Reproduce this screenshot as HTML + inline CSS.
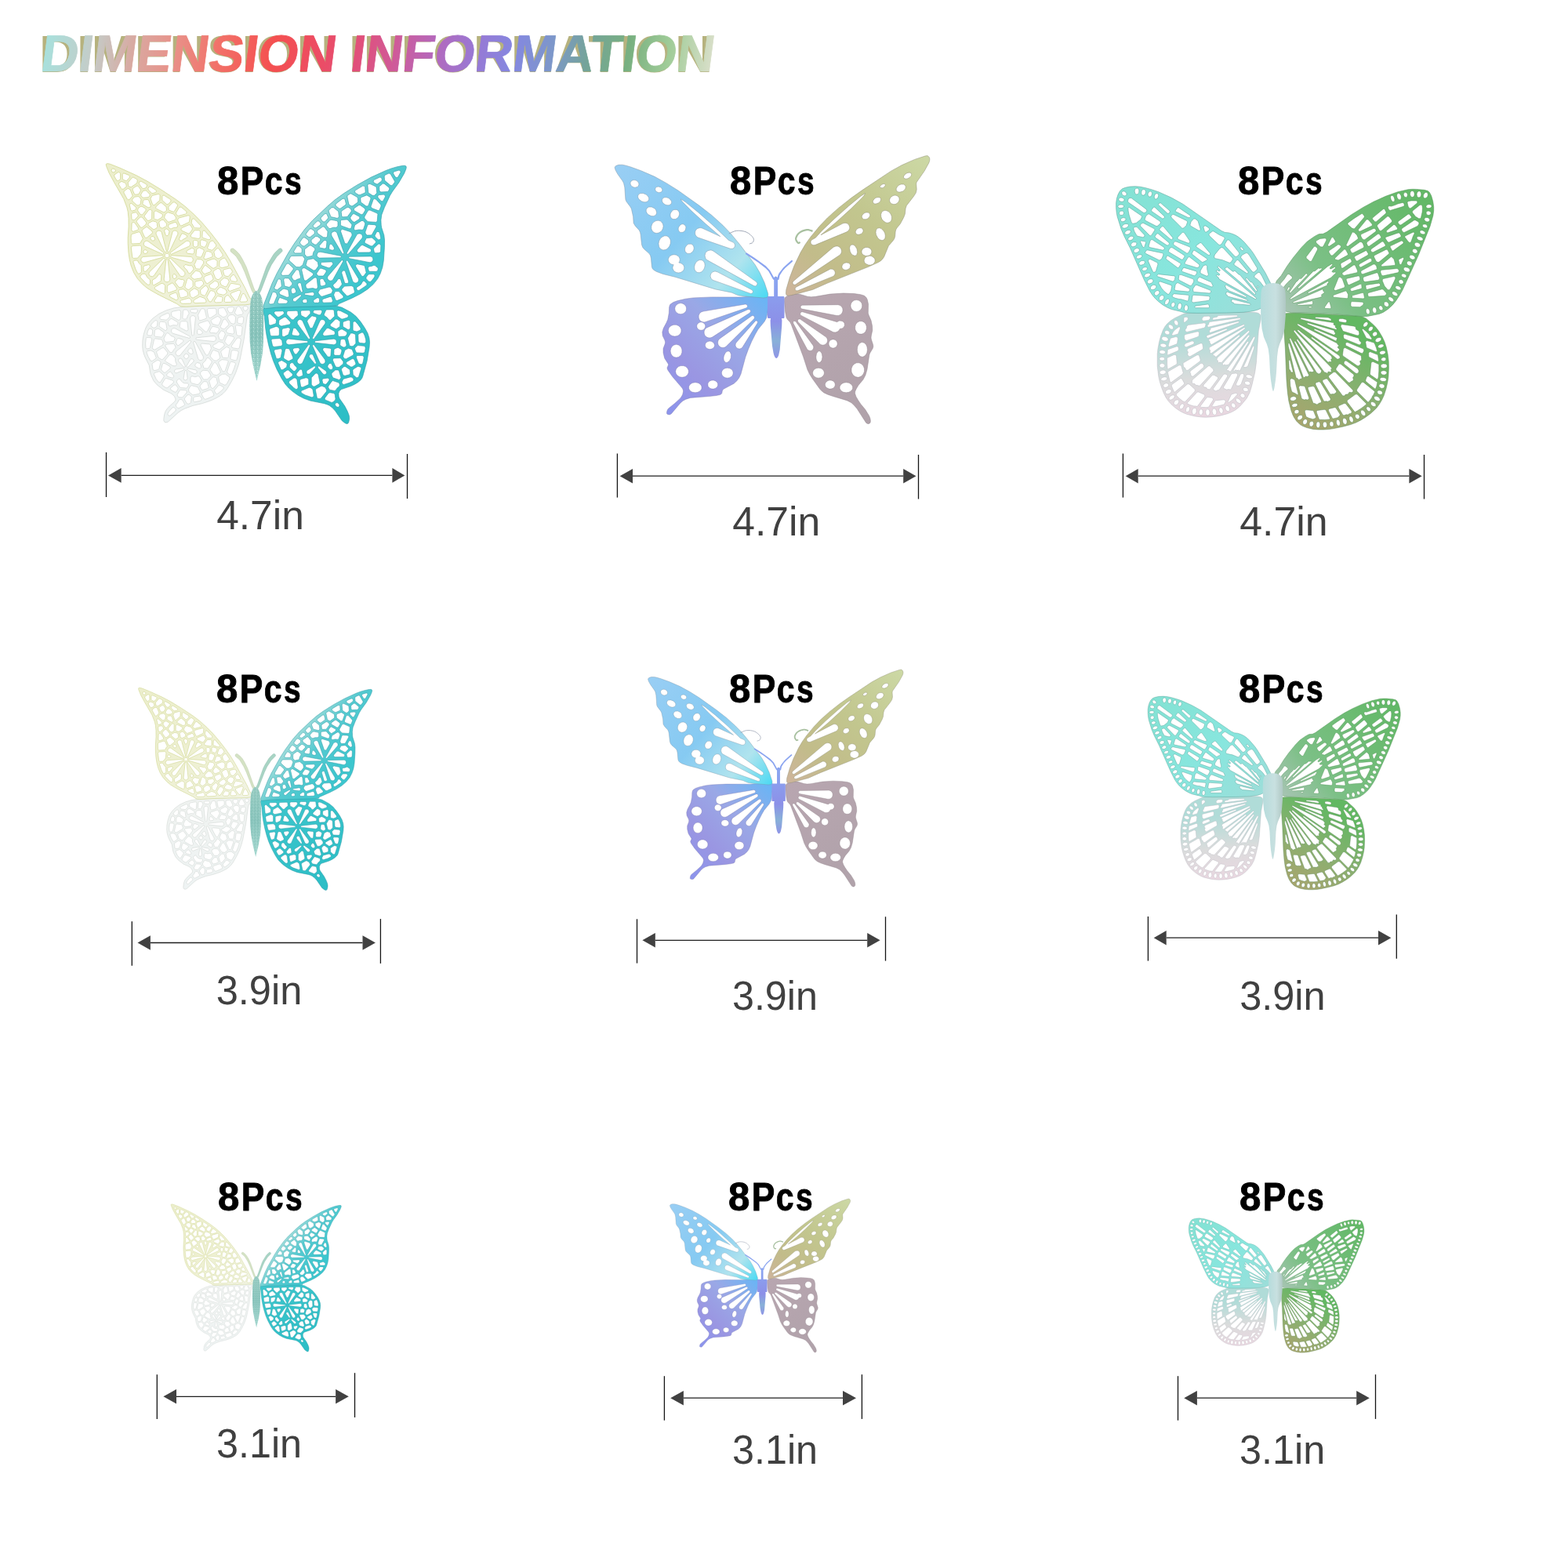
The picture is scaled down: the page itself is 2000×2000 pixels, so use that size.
<!DOCTYPE html>
<html><head><meta charset="utf-8"><title>Dimension Information</title>
<style>
html,body{margin:0;padding:0;background:#fff;width:2000px;height:2000px;overflow:hidden}
svg{display:block}
.tk{stroke:#141414;stroke-width:1.3}
.ln{stroke:#1e1e1e;stroke-width:1.3}
.ah{fill:#414141}
.pcs{font-family:"Liberation Sans",Arial,sans-serif;font-weight:bold;font-size:50.8px;fill:#000;stroke:#000;stroke-width:0.9px}
.sz{font-family:"Liberation Sans",Arial,sans-serif;font-size:51.4px;fill:#404040}
.tt{font-family:"Liberation Sans",Arial,sans-serif;font-weight:bold;font-size:66px}
</style></head><body>
<svg width="2000" height="2000" viewBox="0 0 2000 2000">
<rect width="2000" height="2000" fill="#fff"/>

<defs>
<linearGradient id="tg" gradientUnits="userSpaceOnUse" x1="54" y1="0" x2="910" y2="0">
<stop offset="0" stop-color="#a8e0dc"/>
<stop offset="0.07" stop-color="#c4ccc8"/>
<stop offset="0.13" stop-color="#d8aaa2"/>
<stop offset="0.19" stop-color="#e8928a"/>
<stop offset="0.26" stop-color="#f27068"/>
<stop offset="0.34" stop-color="#f45050"/>
<stop offset="0.41" stop-color="#ec4c64"/>
<stop offset="0.47" stop-color="#e0507c"/>
<stop offset="0.52" stop-color="#d05a98"/>
<stop offset="0.58" stop-color="#b468bc"/>
<stop offset="0.64" stop-color="#9878d4"/>
<stop offset="0.70" stop-color="#8488e0"/>
<stop offset="0.76" stop-color="#7c98c8"/>
<stop offset="0.81" stop-color="#74a498"/>
<stop offset="0.87" stop-color="#78b080"/>
<stop offset="0.93" stop-color="#a0cc98"/>
<stop offset="1" stop-color="#dce0cc"/>
</linearGradient>
</defs>
<text x="50" y="91.5" class="tt" fill="#b6b27e" textLength="859" lengthAdjust="spacingAndGlyphs">DIMENSION INFORMATION</text>
<text x="50" y="91.5" class="tt" fill="url(#tg)" stroke="url(#tg)" stroke-width="0.7" textLength="859" lengthAdjust="spacingAndGlyphs" transform="translate(0 91.5) skewX(-7.5) translate(0 -91.5)">DIMENSION INFORMATION</text>

<defs>
<linearGradient id="b1lf" gradientUnits="userSpaceOnUse" x1="140" y1="210" x2="320" y2="420"><stop offset="0" stop-color="#eceecc"/><stop offset="0.5" stop-color="#eef0d2"/><stop offset="1" stop-color="#f2f4e8"/></linearGradient>
<linearGradient id="b1lh" gradientUnits="userSpaceOnUse" x1="250" y1="400" x2="250" y2="540"><stop offset="0" stop-color="#f0f3f1"/><stop offset="1" stop-color="#eef3f3"/></linearGradient>
<linearGradient id="b1rf" gradientUnits="userSpaceOnUse" x1="352" y1="330" x2="432" y2="392"><stop offset="0" stop-color="#a6dedb"/><stop offset="0.45" stop-color="#56cad0"/><stop offset="1" stop-color="#3cc6ce"/></linearGradient>
<linearGradient id="b1rh" gradientUnits="userSpaceOnUse" x1="340" y1="400" x2="430" y2="540"><stop offset="0" stop-color="#3ec6cc"/><stop offset="1" stop-color="#2cbec6"/></linearGradient>
<linearGradient id="b1bd" gradientUnits="userSpaceOnUse" x1="0" y1="370" x2="0" y2="486"><stop offset="0" stop-color="#98ccc2"/><stop offset="0.5" stop-color="#88c4bc"/><stop offset="1" stop-color="#a8dad2"/></linearGradient>
<pattern id="glit" width="5" height="5" patternUnits="userSpaceOnUse"><rect x="0.5" y="0.5" width="1" height="1" fill="#5e9c94" opacity="0.6"/><rect x="3" y="2" width="1" height="1" fill="#e8f8f4" opacity="0.7"/><rect x="1.5" y="3.5" width="1" height="1" fill="#6aa8a0" opacity="0.5"/><rect x="3.5" y="4" width="1" height="0.8" fill="#d0f0ea" opacity="0.6"/></pattern>
<g id="b1">
<path d="M294.6,317.6L293.9,319 294.3,321 299.1,324.9 301.5,327.5 307.8,337.6 312.2,347.3 321.1,370.5 324.9,377.1 326,377.6 326.9,377.3 327.5,376.6 327.5,375.4 323.7,367.3 314.2,340.5 309.3,330.7 305.6,324.6 301.4,320.1 297.5,317 296,316.9Z" fill="#d4e2c4" fill-rule="evenodd" stroke="#b8c8a8" stroke-width="0.5"/>
<path d="M339.8,340.5L330.3,367.3 326.5,375.4 326.5,376.6 327.4,377.5 328.6,377.5 329.3,376.9 332.9,370.5 341.8,347.3 346.1,337.9 353,327.5 360,320.5 360.1,319 359,317.3 357.5,316.8 356,317.3 351.7,321.3 348.9,324.6 342.1,335.8Z" fill="#a8d4c4" fill-rule="evenodd" stroke="#88b8a8" stroke-width="0.5"/>
<path d="M316.4,386.9L306.1,386.8 274.1,389.4 237.1,390.9 222.1,392.8 212.4,395.7 202.9,400.2 194.8,406.2 189.5,412 187.4,415.3 185.6,418.9 183.2,426.6 181.9,434.3 181.7,441.7 182.2,446.5 183.6,451.9 185.2,456 190.2,465.8 191.7,475.6 192.6,478.4 195.8,485.5 200.1,490.7 208.9,497.5 217.8,501.6 220,503 222.5,505.7 223.8,508.6 223.8,510.5 222.6,512.4 216.3,518 213.2,521.4 211.2,524.3 209.8,528.2 208.8,534.4 208.9,536.6 210,538.4 211.9,538.9 214.4,538 227.4,526.2 231.2,523.5 235.7,521.2 246,517.4 257.3,514.8 264.8,512.4 270.5,510.3 275.8,507.7 280.8,504.8 284,502.4 287.1,499.3 290.1,495.4 295.8,485.7 300.5,475.9 304.1,465.9 306.5,457 311.3,432.2 315.1,404.3 315.9,401.5 321.6,391.9 322.1,390.1 321.5,388.6 319.7,387.5ZM219.1,397.8L221.2,397 227.3,395.8 229,395.7 230.1,396.2 230.7,397.9 230.1,406.4 229.5,407.6 228.5,408.2 227.3,408.2 219.6,403.8 219,402.7 218.4,399.5ZM204,404.4L206.6,402.6 213.4,399.5 215,399.7 216,400.9 216.4,403.1 216.1,404.3 212.9,407.8 212,408.2 205,407.4 203.8,406ZM215.3,415.3L214.4,410.4 214.9,409.4 217.9,406.6 219.6,406.8 226.1,410.6 226.9,411.7 226.8,413.8 225.4,415 220.9,414.7 217,416.1ZM192.5,414.8L193.7,412.9 197.7,408.9 199.2,408.6 200.5,409.5 200.9,410.7 200.5,415.3 199.6,416.8 197.1,418.1 195.8,418.2 193,416.5ZM210.7,421.5L203.3,416.5 203.1,415.5 203.4,411.9 204.5,410.4 205.5,410.2 210.3,410.8 211.6,411.7 213,419.7 212.2,421.1ZM187.6,426.1L188.6,422.2 190,419.4 191.8,419 194.2,420.5 194.7,422.1 194.2,426.4 193.5,427.6 192.2,428.1 189.2,427.8 188.2,427.2ZM196.9,428L197.5,421.5 198.2,420.5 200.8,419.2 202.6,419.4 208.4,423.4 209,424.4 209,425.8 207.4,429 206.1,430.1 198.4,429.3ZM218.7,420.7L219.5,419.6 220.6,418.8 222,418.6 223.3,418.8 242.1,429 242.5,429.6 242.5,430.6 242.1,431.1 241.1,431.3 220.6,425.3 219.5,424.5 218.7,423.4 218.5,422.1ZM209.1,432.2L209.3,431 212,425.7 212.7,425 213.7,424.7 215.1,425.2 217.9,428.3 222.3,430 223.1,431.6 222.1,434.5 221,435.5 212,436.4 210.3,435.6ZM224.2,436.8L225.7,432.6 226.9,431.6 227.9,431.5 232.6,432.9 233.8,434.2 233.9,435.2 233.3,436.3 227.8,440.5 226.6,440.5 225.7,440ZM186,443.9L185.6,438.1 186.3,431.5 186.9,430.7 188,430.3 192.7,430.9 193.5,431.8 193.7,433 191.4,443.6 190.3,444.5 187.9,444.9 186.7,444.6ZM197.5,446.1L195.1,445.3 194.2,443.7 196.6,432.8 197.4,432.1 198.4,431.9 206,433 206.9,434 208.1,437.6 207.7,440ZM211.8,439.4L212.9,439 221.2,438.3 222.4,439.4 223.8,442.1 223.8,443.5 221.5,446.2 219.9,449.1 218.8,449.6 217.2,449.5 216.2,448.8 211.2,442 211,440.6ZM199.9,448.4L200.7,447.5 206.9,443.8 208.3,443.5 209.6,444.3 213.6,449.5 213.8,450.9 213.3,452 207.9,458.2 206.2,458.7 202,456.2 199.8,449.8ZM187.9,447.7L192.2,447 196.3,448.8 199,455.5 199,456.6 198.5,457.5 194.2,460.4 193,460.5 191.9,460 188.8,454.4 187.2,450.1 187.2,448.7ZM210.8,459.2L216.3,452.6 217.5,452.2 219.9,452.5 223.7,457 223.7,460.8 225.2,464.2 225.1,465.6 223.7,466.7 220.9,466.7 211.7,461.4 210.9,460.4ZM227.9,458.2L229.1,457.3 230,457.1 231,457.3 232.1,458.2 236.2,466.6 236.2,467.6 235.7,468.1 234.8,468.3 234.2,468 227.9,461 227.5,459.6ZM194.2,463.9L195,463 200.6,459.4 201.9,459.4 204.1,460.7 204.8,461.6 204.9,462.7 202.8,470.7 201.8,471.5 197.4,472.6 195.7,472.1 195,470.9 194.1,464.9ZM205.7,471.8L205.7,470.6 207.2,464.7 208.4,463.4 210.2,463.5 216.4,467.1 217.1,468.1 217.2,469.3 216.7,470.2 210.8,475.3 208.9,475ZM223.2,471.7L224.5,471 233.6,469.7 234.5,470.1 234.9,471 234.1,472.1 225,475.9 223.6,475.5 222.7,474.4 222.5,473ZM212.7,477.7L215.7,474.6 217.7,474.3 218.7,475.1 219.7,477.1 221.4,478.9 221.6,480.7 220.9,481.7 219.6,482.1 214,480.4 212.8,479.3ZM197.1,475.6L202.4,474 203.5,474 208.7,478.5 209.1,479.8 208.9,480.8 204.6,487.5 203.4,487.7 202.4,487.4 199.2,483.5 196.5,477.7 196.5,476.7ZM206.7,490.2L207,489 210.2,483.6 211.5,482.7 212.7,482.7 220.3,485.2 221.5,486.7 220.9,488.6 213.2,494.8 211.8,494.7 208.2,492.3 207.1,491.3ZM217.6,495.2L218.1,494.4 221.8,491.3 223.3,490.8 224.8,491.6 226.9,494.8 227.1,495.9 225.2,499.4 223.4,500.3 218.2,497.4 217.6,496.4ZM224.3,516.5L226.7,513.4 227.9,510.5 229.4,509.6 231.6,509.7 232.7,510.3 235.5,515.5 235.3,516.7 234.6,517.4 227.8,520.8 226.5,520.3 224.7,518.4ZM214,528.5L214.1,527.5 215.2,525.3 220,519.8 221.9,519.6 223.9,521.5 224.3,522.8 223.9,524 217.4,529.8 216.5,530.2 215.4,530.1 214.6,529.6ZM243.8,394.7L250.5,394.2 251.7,395.2 251.9,396.8 251.1,398.5 250,399.2 244.3,398.6 243.3,397.9 242.9,396.8 243,395.6ZM234.2,395.4L235.4,395 238.6,395.1 239.3,395.8 241,399.1 240.9,400.3 239.2,403.1 238.4,406 237.1,407 234.2,406.9 233.4,406.3 232.9,405.4 233.5,396.7ZM252.6,402.3L252.8,401.1 256.3,394.4 257.4,393.9 259.5,393.8 261,394.6 263.4,404.7 262.8,406.4 256.1,408.7 254.7,408.7 253.4,407.3 253.3,404.6ZM243.1,404.1L244.7,402.8 246.7,402.6 248.5,403.5 249.4,405.3 247.2,427.2 246.2,428.2 245.3,428 244.8,427.2 242.5,406ZM237.9,422.1L230.3,418.2 229.5,417.3 229.2,416.3 229.8,411.6 231.5,409.8 237.3,409.7 238.9,410.8 240,420.2 239.3,421.6ZM253.6,412.5L263.9,409.1 264.9,409 266.3,410 268.1,413.8 268.3,414.8 264.6,422.2 263.7,423 262.5,423.1 261.4,422.6 253.6,415.3 253,413.8ZM251.7,425.4L251.5,424.4 251.8,421.3 252.4,420.5 253.3,419.9 255.1,420.3 257.8,422.8 258.2,423.7 258.1,425.1 256.8,426.2 253.2,426.5ZM250,431.3L250.8,430.8 272,428.5 273.3,428.8 274.5,429.5 275.2,430.7 275.5,432 275.2,433.3 274.5,434.5 273.3,435.2 272,435.5 250.8,433.2 249.8,432.5ZM225.1,447.9L241.8,434.5 242.7,434.3 243.5,434.8 243.5,436.2 229.6,453.3 227.6,453.9 226.3,453.6 225.1,452.9 224.4,451.7 224.1,450.4 224.4,449ZM257.2,438.1L267,438.9 268.5,440 269.4,444.6 265.9,451.9 265,452.8 263.4,453 262.3,452.2 256.2,441 256.1,439.2ZM246.9,435.9L247.9,435.4 249,435.9 259.2,454.7 259.4,456 259.2,457.4 258.4,458.5 257.3,459.3 255.9,459.5 254.6,459.3 253.5,458.5 252.7,457.4 246.7,436.9ZM244.1,451.7L243.2,451.4 240.6,449.7 239.7,448.3 240,446.8 241.7,444.7 242.8,444.1 244,444.3 244.9,445 246.2,449.2 245.8,451ZM234.5,454.1L236,451.8 237.5,451.1 240.1,452.5 240.8,454.1 240.5,455.3 239,457.1 237.5,457.7 235.9,457 234.7,455.1ZM242.6,458.8L243.7,457.8 245.7,457.8 247,459.2 247,461.1 240,468.1 238.7,468.4 238,467.7 238,466.8ZM258.8,463.1L261.9,460.4 263.6,456.9 264.9,456.3 266.6,456.9 269.7,460.4 270.1,461.3 269.9,462.5 266.1,469 264.7,470 260.9,469.7 259.7,469 258.5,464.5ZM251.8,462.5L254.7,463.4 255.8,464.4 256.5,468.1 256.1,469.2 255.3,469.9 253.6,469.9 249.7,467.8 248.9,466.9 249,464.9 250.5,463.1ZM239.2,470.5L240.5,470 249.7,472 251.1,473.3 251.1,475.2 249.7,476.6 247.8,476.6 239.6,472.2 239.1,471.4ZM255.4,475.2L259,472.2 264.7,472.7 265.8,473.4 268.5,477.8 268.8,479.5 264.7,483.9 260.2,484 259.1,483.3 255.5,477.2ZM235.8,472.8L237.1,472.3 238,473 239.1,482.5 238.3,484.3 236.6,485 234.8,484.3 234.1,482.5ZM242.8,485L243,481.5 244,480.1 245.2,479.8 248.8,480.7 252.7,479.7 254.5,480.5 256.9,485 256.5,486.2 253.6,489.9 252,490.7 244.5,488.8 243.6,487.8ZM225.6,488L225.3,486.8 225.8,485.4 227.5,483.6 229.1,483.3 230.1,484 231.3,486.1 233,487.8 235.4,488.8 239.3,488.9 240.3,489.8 240.5,491.2 238.9,494.2 237.8,495.1 230.6,494.6 229.3,493.8ZM255.2,492.6L255.6,491.5 259.2,487.2 260.3,486.7 262.9,486.8 264,487.2 264.6,488 266.2,493.8 265.8,494.8 264.9,495.6 258.4,497.5 256.8,496.6 255.3,493.6ZM241.4,500.2L240.9,499.2 240.6,496.6 242.8,492.5 244.4,491.7 252.1,493.6 255.3,499.8 254.9,501.4 253.9,502.3 246.7,503.8 245.5,503.4ZM226.1,503.5L229,498.2 230.2,497.3 236.6,497.7 237.5,498.2 238.2,499 238.3,500 237.9,501 232.6,507 227.9,506.7 227,505.9ZM246.7,511.4L246.9,507.5 248.3,506.1 254.7,505.1 255.8,505.9 257.2,508.5 257,510.2 255.6,511.2 248.7,512.7 247.5,512.3ZM235.3,508.7L235.7,507.8 239,503.8 240.3,503.3 241.5,503.6 243.7,505.3 244.3,506.4 243.4,513.6 242.5,514.4 240.3,515.2 238.6,514.9 235.6,510ZM311,390.9L312,390.6 314.4,390.7 316,391.8 316.1,393.6 314.1,396.3 312.5,396.5 311.2,395.5 310,392.9 310.2,391.9ZM292.3,398.7L290,394.6 290.4,392.6 291.4,392 293.4,391.7 296.4,391.5 297.7,392 298.3,392.8 298.4,394 296.7,398.1 295.8,398.7 293.9,399ZM302.7,402.2L299.9,400.1 299.5,398.4 302.2,391.8 303.4,391 305,390.9 306.4,392 309.8,398.3 309.9,399.5 309.5,400.4 308.5,401.1ZM279.5,393.2L284.7,392.5 286.3,393.3 289.8,400.3 289.5,401.5 287.6,403.9 284.3,404.5 279.2,401 278.8,400.1 278.5,394.9ZM265.1,394L266.2,393.6 273.8,393.3 274.9,393.6 275.9,395.1 276.1,399.8 275.8,400.8 268.8,405.3 267.8,405.5 266.8,405.2 265.9,404.1 264.2,395.9 264.4,394.7ZM290.3,405.4L290.7,404.2 292.7,402 296.4,401.3 297.9,401.8 300.1,403.7 300.7,404.8 299.9,411.4 299.5,412.5 297.9,413.2 294.7,412.5 290.7,406.6ZM302.8,411.1L303.2,406.1 304,405 308.5,403.8 310.3,404.5 310.8,406 310,411.5 309.4,412.6 308,413.2 304.4,412.4 303.4,412ZM271.1,413.3L269.2,409.7 269.3,408.5 270,407.7 277.1,403.6 278.4,403.8 281.6,406.2 281.9,408 279.3,413.7 278.5,414.6 277.1,414.9ZM281.1,416.6L284.8,407.9 286.3,407 287.9,407.3 291.5,412.5 291.7,413.5 291.4,414.7 286.8,419.1 285.7,419.7 282.5,418.8ZM267.6,423L267.7,422 269.9,417.5 271.1,416.5 272.3,416.4 277.9,417.8 279.4,419.4 279.2,421.2 277,424.4 276,425.1 272.3,424.6 269.1,424.7 268,424.1ZM290.3,424.9L288.6,422.8 288.9,420.8 294.1,415.8 295.3,415.5 296.9,416 297.7,417.4 298.7,423.9 298.3,425.3 296.6,426.1ZM301.8,414.8L307.8,415.8 309.1,417.1 308.2,426.9 306.9,428.4 303.2,428.2 301.9,426.9 300.3,416.7 300.7,415.6ZM278.4,427.5L281.3,422.7 282.5,421.9 285.4,422.7 287.3,425.9 287.1,427.1 284.8,432.7 283.3,433.8 280.8,433.4 279.8,432.7ZM289.9,439.9L287.1,436.4 286.7,435.2 289.4,428.5 291.3,427.8 298,429.4 298.6,430.4 298.6,431.8 293.2,439.7 291.8,440.4ZM295.4,441.7L295.7,440.6 302.2,431.4 303.7,430.9 305.7,431.2 306.7,431.9 307.2,433.5 305.5,443.1 304.8,444.3 303.3,444.8 297,443.8 295.8,443.1ZM272.3,439.8L275.8,438.3 278.3,436.2 279.4,435.8 284.1,436.9 285.8,439.1 286.1,440.2 285.3,441.8 280.5,445.5 279.3,445.9 272.4,443.4 271.6,441.5ZM283.7,455.6L281.8,449.2 282.1,447.7 288.5,442.7 289.7,442.6 291.9,443.5 292.8,444.6 293,445.6 291.1,455.6 290.4,456.3 289.4,456.6 284.8,456.2ZM293.9,457.2L295.2,448.3 295.9,447.1 297.6,446.6 302.6,447.3 303.6,447.9 304.2,449.8 302.2,458.2 301.6,459.3 300.1,459.8 295.4,458.6 294.5,458.1ZM273.1,459.9L268.6,455.2 268.1,453.9 270.9,447.5 272.6,446.5 278.7,448.8 280.7,455.8 280.2,457.3 276.6,459.8 275.7,460.1ZM284.2,473.8L283.4,472.8 279,463.5 278.9,461.9 279.7,460.9 283,458.7 289.8,459.3 290.8,460.3 291,461.8 287.3,472.6 286,473.9ZM294.7,461.5L295.7,461.4 299.2,462.3 300.1,463.1 300.4,464.3 298.7,469.7 295.8,476.7 295,477.6 293.9,477.9 292.9,477.7 290.3,475.9 289.6,474.2 293.5,462.6ZM272.1,478L268.3,472.6 268,471.2 272.4,463.5 273.4,462.7 274.7,462.7 276.3,463.8 280.9,473.6 281.1,474.9 280.3,476.1 276.6,478.6ZM280.3,488.2L279.9,487.3 278.7,481 279.3,480 283.4,477.3 287.4,477.1 292.8,481 292.8,483 289.7,488.8 288.1,490.9 286.3,491.1ZM267,485.8L271.3,481.1 272.4,480.8 274.8,481.2 276.1,482.5 277.4,488 277.3,489 272.5,494.8 271.6,495.3 270.4,495.3 269.1,494 267,487ZM275.6,502.1L274.9,501.3 273.8,499.1 273.8,497.6 278.4,491.9 279.3,491.3 280.4,491.3 284.6,493.4 285.1,494.4 285,495.6 282.8,498.2 277.6,502.2 276.6,502.4ZM260.8,509L259.9,508.1 257.5,503.4 257.5,502.3 258.1,500.8 267.5,497.5 268.8,497.6 270.6,498.6 272.8,503.1 272.3,505 265.4,508.1 262.2,509.2Z" fill="url(#b1lh)" fill-rule="evenodd" stroke="#c9d0cc" stroke-width="0.6"/>
<path d="M135.5,209.1L135.2,209.9 135.7,212.2 139.1,220.6 145.4,232.3 157.7,253.5 161.8,264.3 163.2,270.1 164,278.3 164.1,289.1 163.2,303.2 163.2,310.2 163.9,321.9 165.2,330.8 167.2,339 170.7,347.8 175.4,355.5 181.7,362.5 188,367.7 195.7,372.3 203.3,376.5 225.6,387.5 229.4,390.3 231.5,391 237.3,391.3 255.4,390.3 312.2,388.9 317.8,388.2 319.7,387.5 320.8,386.6 321.2,385.5 320.5,382.7 317.7,378 312.6,367.3 293.3,332.1 286.9,321.6 278.1,309 268.3,296.4 257.7,283.9 247.4,273.4 235.7,262.9 224.6,254.5 205.5,241.9 188,231.2 173.7,223.6 153,214.2 140.6,209.3 137.3,208.6ZM143.9,215L146.4,215.8 147.3,217.1 146.9,218.9 144.9,220 143.1,219.5 142.1,217.5 142.4,215.9ZM145.8,223L150.6,219.7 151.8,219.6 152.7,220 153.5,221.6 153.6,227.9 153.1,229 150.6,230.6 148.9,230.2 145.8,224.9ZM158,220.9L164.3,223.4 165.4,224.6 165.1,226.6 161.4,230.5 160.2,230.5 157.4,229.3 156.3,228 156.2,222.4 156.9,221.4ZM164.4,237.8L163.8,236.8 163.2,232.9 168.4,226.8 169.3,226.3 170.3,226.3 174.7,228.6 175.2,230.3 174.8,233 174.1,234.1 167.4,238.5 166,238.6ZM177.5,234.5L177.4,233 177.9,231.9 178.9,231.3 180.1,231.3 186.7,235 187.4,236 187.4,237.2 185.7,240 182.3,240.6 181.3,240ZM151.7,233.3L155,231.4 159.6,233.2 160.6,234.6 161.2,237 161,238.3 157.4,241.1 155.4,241.1 154.5,240.3 151.6,235.3ZM171.9,247.9L171.2,247.1 169.3,242.5 169.3,240.9 169.9,240.1 174,237.3 175.8,237.2 176.6,237.8 179.2,241.6 179.3,243.4 176.8,247.7 173.2,248.2ZM179.7,248.9L180,247.7 182.1,243.9 183,243.4 185.6,242.9 187.1,243.6 190.7,247.5 191.1,248.6 190.8,249.8 189.3,251.7 183.2,252.2 181.6,251.7 180.1,249.9ZM158,244.1L162.7,240.6 164.1,240.7 166.1,241.9 169,249.4 168.6,250.5 165.2,254.5 163.6,254.8 162.3,254 158,246ZM168.6,255.2L169,254.1 171.6,251.2 176.1,250.6 177.3,250.8 180,254.2 179.1,260.1 178.4,261 176.5,261.9 174.9,261.9 169.1,256.8ZM190,264.9L188.7,264.6 182.3,260.8 182,259.5 182.5,256.5 183.3,255.2 184.2,254.8 188.1,254.5 189.7,255.4 192.3,262.6 191.7,264.2ZM167.7,259.4L173.4,264.3 173.6,265.3 173.3,266.9 172.2,268.1 168.6,269 167.7,268.8 166.8,267.9 165.2,261.3 166.1,259.7ZM175.8,268.9L175.7,267.8 176.5,265.1 179.9,263.2 181.1,263.4 185.1,265.6 186.2,267 185.8,268.7 182,273.5 181,274.1 179.1,273.6ZM168.1,272.3L169.2,271.6 173.3,270.8 174.3,271.5 176.2,274.3 175.9,276.2 171.3,280.7 169.3,280.6 168,279.4 167.6,273.6ZM179.3,290.1L174.7,283.7 174.3,282.4 174.7,281.3 178.3,277.4 180,276.7 181.8,277.6 186.3,283.3 186.6,284.7 185.8,286.6 181.5,289.9 180.3,290.3ZM168.1,294.2L167.8,293.2 168.1,284.9 169.1,283.7 170.7,283.5 171.8,284.1 176.2,290.5 176.4,292.3 175.3,293.6 170.3,295.2 169.1,295.1ZM181.2,293.8L181.8,292.9 186,289.8 187.5,289.5 194,294.9 194.5,296.8 193.9,297.8 187.7,302.9 185.9,303.4 184.4,302.2 181.2,295.1ZM167.4,309.9L167.1,303.3 167.3,300.1 167.7,299.1 168.7,298.4 176.7,295.9 178.6,296.3 182.2,304.1 182,305.1 180.5,307 179.3,309.7 178,310.5 169.2,311 168.2,310.8ZM183.1,322.4L182.9,320.2 184.3,318.8 185.4,318.7 186.9,319.3 188.1,320.5 188,322.1 186.8,323.2 184.4,323.4ZM168.2,314.1L169.3,313.6 178.3,313.1 179.6,313.6 180.4,314.7 180.6,315.9 179.9,323.9 175.5,329.2 170.4,329.4 169.5,329 168.8,328.2 167.3,315.8ZM171.1,332.2L174.2,332 175.3,332.3 177.3,335.7 180.1,338.6 180.4,346.5 179.9,347.6 178,349 176.6,349.1 175.5,348.4 172.8,343 170,334.4 170.2,333.2ZM183.7,339.2L189.6,337.6 191,338.3 191.4,339.9 190.9,341 188.1,343.8 186.6,345.9 184.9,346.5 183.7,345.9 183.1,344.8 183,340.7ZM178.9,352L179.5,351.2 182.1,349.3 184.6,349.3 185.7,349.8 187.6,353.5 191.4,356.9 191.5,361.3 190.9,362.7 189.9,363.3 188.6,363.2 185.6,360.9 179.2,354 178.8,353ZM188.8,240.8L189.9,238.5 191,238 192,238.1 198.7,242.3 199.3,243.3 199.2,244.5 198,245.8 194.7,246.6 193.7,246.5 189.4,242.2ZM192,253.4L193.6,250.2 194.7,249.3 202,247.5 203.2,247.8 204.1,248.9 203.8,255.5 197,261.5 195.6,261.5 194.5,260.6ZM209.1,249.1L216.3,253.6 218,255.1 217.8,257.1 214.2,260.6 213.1,260.7 212.2,260.3 206.9,255.4 206.9,250.5 207.7,249.4ZM221.5,270L220.3,269.9 215.9,268.3 215.2,267.3 214.9,264.6 215.4,263.3 220.2,258.4 221.8,257.8 222.8,258 226,260.4 226.7,262.1 222.7,269ZM198.8,264.1L199.4,263.1 204.1,258.9 206,258.6 212,263.8 212.5,268.3 210.1,270.5 208.5,270.7 199.7,266.4 198.9,265.5ZM188.3,281.4L184.5,276.8 184.2,275.2 189.6,268 190.7,267.4 192.4,267.3 193.4,268 193.8,269.2 193.6,278.8 192.7,280 190.1,281.3ZM201.2,280.5L197.6,279.7 196.4,278.4 196.4,270.9 196.9,269.8 197.9,269.1 199.3,269.1 206.4,272.7 207.5,274 206.7,277.1ZM214.7,283.1L213.8,282.6 210.2,278.4 209.7,277.1 210.7,273.4 213.5,271.2 214.7,270.9 221.5,273.1 224.1,276.8 224.5,278 224.1,279.7 223.3,280.5 215.9,283.1ZM204,289.8L202.8,284.2 203,283 203.6,282.2 206.5,280.4 208.4,280.4 212.4,285.1 212.6,286.2 212.1,288.3 211.2,289.3 207.3,291 206.1,290.9ZM189.3,285.1L190.1,284.2 194.9,281.9 198.9,282.9 200.2,284.2 200.8,289.6 200.1,290.6 197.2,292.4 195.5,292.6 189.4,287.4 189,286.2ZM217.4,291.8L216.3,291.3 214.8,289.4 215,287.2 215.5,286.2 223,283.4 224.9,283.9 226.7,287.7 226.2,289.6 225,290.2 221.5,290.4 218.4,291.8ZM210.2,292.9L211.7,292 212.9,291.9 215.7,294.4 215.9,295.8 215,299.2 213.9,300.6 212.3,300.6 211.1,299.6 209.7,294.6ZM191.9,303.3L193.6,301.5 195.4,301.4 196.4,302.2 197.4,304.3 197.3,305.9 196.2,307 194.6,307 192.2,305.2ZM199.3,296.4L200.7,294.7 202.7,294.1 204.8,294.7 206.2,296.4 212.2,320.1 212.1,320.8 211.4,321.5 210.7,321.6 209.9,321.1 199.3,299.2 199,297.8ZM220.1,295.7L221.2,294.7 222.5,294.1 224.7,294.3 225.9,295.2 226.7,296.4 226.9,298.5 216.2,320.8 215.7,321.4 214.8,321.6 214,321.1 213.8,320.1ZM183.6,309.6L184.9,307.9 186.3,307.3 187.8,307.3 189.1,307.9 208.5,322 209,322.8 208.8,323.7 208,324.2 207.3,324.2 184.9,314.1 183.9,313.1 183.3,311.7ZM214.1,323.2L215.8,324.9 215.8,327.1 214.1,328.8 211.9,328.8 210.2,327.1 210.2,324.9 211.9,323.2ZM180.8,328.6L182.7,327.5 207.1,325.8 208,326.2 208.3,327 207.6,328.2 183.5,335 181.4,334.3 180,332.6 179.8,330.5ZM190.6,346.9L208.3,329.7 209.1,329.3 210,329.7 210.4,330.4 210.2,331.3 196.4,351.6 194.4,352.7 193,352.7 191.6,352.1 190.6,351.1 190,349.7 190,348.2ZM211.8,331.5L212.3,331 213.2,330.8 214.2,331.8 216.8,356 216.5,357.4 215.7,358.7 214.4,359.5 213,359.8 211.6,359.5 210.3,358.7 209.5,357.4 209.2,356ZM194.3,362.4L194.2,358.3 194.7,357 199.1,354.5 202.5,349.9 203.9,349.6 205,350.1 205.8,351.7 205.4,357.8 204.9,358.9 196.8,363.5 195.4,363.4ZM213.6,372.3L213.2,371.1 213.3,365.2 213.6,364.3 218.8,361.2 219.8,361 220.8,361.3 225.2,367.3 225.5,368.2 225.2,369.4 224.1,370.3 215.8,373.2 214.5,373.1ZM197.5,366.5L198.3,365.7 205.8,361.5 207.7,361.6 210.1,363.2 210.6,364.3 210.4,373.4 209.5,374.2 208.1,374.4 203.3,372.1 197.8,368.9 197.3,367.7ZM224.4,271.8L228.4,264.8 230,264 231.2,264.3 235.7,268 237.6,269.7 238.1,270.8 237.8,272 236.7,273 227.6,275.4 225.8,274.7 224.6,272.9ZM226.8,281.5L227,279.2 228.2,278 240,274.8 241.4,275 242.3,276.1 241.6,282.3 241.1,283.4 231.8,287.8 230.4,287.8 229.4,287.1ZM244.2,284.3L244.8,279.9 246.1,278.9 247.6,279.1 255.9,287.7 256.2,288.7 256,289.9 254.5,291 248.4,290.7 247.5,289.9ZM231.2,291.4L232.1,290.5 241.4,286.6 243,287.4 245.2,291.1 245.4,292 245.1,293 242.1,297.3 240.4,298.1 231.7,294.1 230.9,293ZM243.3,300.9L243.6,299.7 248.2,293.7 253.8,293.7 255.4,294.8 255.3,302.6 254.2,304.2 252.8,304.4 244.8,303 243.6,302.1ZM228.5,304.7L231.7,298.1 233.5,297.9 237.9,300 238.5,301 238.5,302.2 237.6,303.3 235,304.5 231.6,306.9 229.8,307 228.8,306.1ZM247.5,306.5L248.5,306.3 251.4,306.9 252.7,308.2 252.5,313.2 251.9,314 250,315.1 248.3,314.9 247,314.1 246.5,313.2 246.3,308ZM217.2,322.3L237.5,307.5 239,307.2 240.4,307.5 241.6,308.3 242.4,309.6 242.7,311 242.4,312.4 241.6,313.7 240.4,314.5 218.7,324.2 217.3,323.9 217,323.2ZM245.3,316.4L247.1,317.3 247.9,318.5 247.6,322.4 246.9,323.6 245.4,324 239.6,323.3 238.3,322.6 237.8,321.1 238.5,319.7 244.3,316.6ZM217.8,326.6L218.9,325.8 243.3,327.5 244.6,328.1 245.7,329.1 246.2,330.5 246.2,331.9 245.7,333.3 244.6,334.3 243.3,334.9 241.8,334.9 218.4,328.2 217.8,327.5ZM247.8,337.3L249.6,334.2 250.4,331.5 251.6,330.4 257.1,331 259.6,333.6 259.6,335.8 255.5,342.5 254.5,343.2 250.8,342.9 249.7,342.4ZM215.8,329.9L216.6,329.4 217.7,329.7 234.9,346.3 235.7,347.5 236,349 235.7,350.4 234.9,351.6 233.7,352.4 232.3,352.7 230.8,352.4 229.6,351.6 215.8,331.3ZM236,337.7L237,337.6 241.4,338.8 244.3,338.8 245.6,339.7 246.8,342.6 246.8,343.8 242.9,348.5 241.5,348.8 240.4,348.3 238.6,344.7 234.9,340.9 234.6,339.1ZM248,356.2L247,355.9 244.2,353.7 243.8,352.5 244.1,351.2 249.1,345.6 250.4,345.4 254.5,346.3 257.8,351.4 257.9,352.4 257.4,354 256.1,354.9ZM220.8,354.7L220.2,351.9 220.5,350.7 221.7,349.7 223.3,349.8 225.1,352.1 225,353.9 223,355.5 221.8,355.4ZM227.8,355.6L230.8,356.5 233.6,356.7 235,357.9 235.1,359.1 233.4,364.7 232.2,366.1 229.3,366.7 228,366.3 223.7,360.6 223.5,359.6 224,358.5 226.8,356ZM236,366.3L236,365.1 238.6,356.4 239.3,355.4 240.4,354.9 241.6,355.1 245.5,358.1 246,359.2 246.2,364.4 245.5,366 241.3,369.2 240.3,369.5 239,369.1 236.6,367.3ZM249.5,358.9L256.2,357.5 257.2,357.6 258.2,358.4 259.5,360.6 259.6,362.4 254.7,367 252.8,367.2 249.8,365.7 248.9,364.6 248.7,360.5ZM244.9,379.8L242.6,377.3 241.9,373.2 242.5,371.5 247.6,368 248.8,368.2 252.5,370.2 252.9,371.1 253.4,374.7 252.7,376.4 246.4,380ZM230,379.5L229.4,378.4 227.7,371.9 227.8,370.8 228.3,369.9 229.2,369.3 233.9,368.7 238.8,372.3 239.6,376.7 238.4,378 232,379.9 231,379.9ZM216.9,375.8L223.3,373.3 224.8,373.6 225.7,374.7 227.1,380 226.9,381.6 225.8,382.5 224.5,382.6 217.3,379 216.4,377.5ZM247.3,385.9L246.8,384 247.5,382.5 255,378.3 261.1,380.4 263.1,383.9 262.7,385.5 261.3,386.2 248.9,386.7ZM230.4,383.4L231.4,382.8 240.7,380.2 241.9,380.6 243.8,382.5 244.3,385.3 243.6,386.6 242.5,387.1 233.4,387.3 231.6,387 230.4,386.1 229.9,384.8ZM261.1,294.2L268.3,302.7 268.5,304.3 267.5,305.5 265.7,305.7 259.2,303.5 258.2,302.7 257.9,301.5 258.3,295.4 259.4,294.2ZM255.5,312.9L255.4,307.6 256.5,306 258.1,305.9 262.9,307.5 263.9,308.5 264,310.2 262.3,314.2 261.5,315.1 259.6,315.2 256.4,313.8ZM264.6,316.1L267.4,308.8 270.1,307.2 271.1,307.1 272.2,307.6 275.7,312.4 275.4,314.3 270.9,319 269.8,319.1 265.9,317.9 265.1,317.3ZM250.2,326.6L250,325.4 250.6,318.9 251.3,317.5 253.3,316.2 254.5,315.9 259.8,318.4 260.2,320.3 257,327.7 255.6,328.1 251.8,327.7ZM272.9,321.6L273.3,320.7 276.3,317.2 277.4,316.7 278.5,316.8 279.5,317.6 283.9,324.3 284.1,326.2 283.5,327 279.5,329.7 277.8,329.8 274.2,327.4ZM259.9,328.9L262.5,321.6 263.3,320.6 265.1,320.4 269.2,321.7 270.2,322.6 271.1,326.4 270.1,328.1 262.2,330.7 260.6,330.3ZM280.1,332.9L280.6,332.1 284.8,329.3 286.7,329.3 287.6,330.1 291.5,336.9 291.6,338.9 290.2,340 283.3,341.6 282,341.4 280.3,340.2 279.7,339.2ZM263.7,333.4L264.7,332.7 271.9,330.2 273.5,330.3 276.4,332.1 277.1,333.1 276.9,339.4 276.2,340.2 272.9,342.1 271.2,342.1 263.7,336 263.3,334.7ZM259.9,349.2L257.6,345.9 257.4,344.4 260.5,339.3 261.4,338.8 262.7,338.7 268.7,343.5 269.2,344.4 269.2,345.5 268.8,346.4 267.9,347 261.5,349.4ZM286.6,351.7L286,350.9 284.6,346 285,344.3 286,343.7 292.5,342.1 294.3,342.5 296.2,345.6 296.2,346.7 295.8,347.6 291.3,352.5 290.1,352.7ZM272,347.9L272.1,346.6 273.1,345 277.3,342.6 279,342.6 280.8,343.7 281.4,344.5 283.4,351.5 283.3,352.6 279.2,356.4 278,356.6 276,355.9 274.8,354.9ZM293.5,354.6L296.4,350.9 297.4,350.5 298.4,350.6 299.4,351.3 302.2,356.3 302.3,358.1 301.6,359.1 300.4,359.4 295.4,358.5 294.3,357.5ZM260,356L260.3,353.6 261,352.5 268.3,349.7 269.3,349.9 270.2,350.6 272,355.2 271.3,357 265.5,361.2 264.3,361.6 262.7,360.8ZM282,363.4L280.9,360.1 280.9,358.9 284.8,355.1 286.5,354.6 289.8,355.4 290.7,356 292,358.7 292,359.8 289,365.4 287.1,365.9ZM267.1,363.5L273.4,358.7 274.6,358.3 277.8,359.6 278.9,363.1 278.3,364.7 274.8,368.4 273.5,368.9 268.4,367.5 267,365.1ZM290.8,368.7L291,367.6 293.7,362.4 295,361.3 305.2,363.1 306,363.6 306.6,364.5 306.5,365.9 305.5,367 293.7,371.3 291.8,370.9ZM256.5,375.5L256.1,374.6 255.6,371 255.9,369.6 261.3,364.8 262.3,364.5 263.5,364.8 265.5,367.9 265.7,369 262.3,376.2 261.4,377 260.4,377.2ZM276.4,370.9L279.9,366.8 281.7,366.3 287.9,369.2 289.1,371.9 289.2,372.9 288.7,374 286.2,375.8 284.6,376.2 277.9,374.7 276.5,372.2ZM294.7,374.1L295.7,373.4 304.6,370.1 306,370.4 307,371.7 306.9,372.9 303.2,382.5 301.7,383.8 300.5,383.7 299.7,383.2 294.7,376.6 294.3,375.3ZM263.9,379.5L264.1,378.3 268.1,371.1 269.6,370.7 272.7,371.5 273.7,372.2 274.8,375 274.8,376.4 269.4,384.7 268,385.1 266.7,384.5ZM305.9,383.4L308.7,375.5 310,374.5 311.6,374.8 312.3,375.5 315.5,382.1 315.3,384 314,384.9 307.8,385.2 306.5,384.6ZM291.1,376.7L292,377.4 295.7,382.2 295.9,384.1 295.3,384.9 294.2,385.4 287.4,385.5 286.6,384.9 286.1,383.8 286.9,379 289.3,376.8ZM273.5,383.9L273.8,382.9 276.5,378.6 277.4,377.8 278.4,377.7 282.4,378.4 283.8,379.6 283.9,380.6 283.3,384.3 282.1,385.7 275.3,385.9 274,385.2Z" fill="url(#b1lf)" fill-rule="evenodd" stroke="#cdd488" stroke-width="0.7"/>
<path d="M335.7,394L335.5,396.2 337.4,404.3 338.6,418.1 340,427.6 342.4,439.2 345.5,451 348.5,460.2 353,470.9 359.2,482.8 364,490.2 368.3,495 373.2,499.3 380.1,504.2 387.3,508.1 395.5,511.1 413.5,514.7 417.3,515.9 420.2,517.3 424.1,520.3 427.7,524.3 436.1,536.6 440.2,539.7 442.1,540.5 443.6,540.3 444.6,539 445.5,535.3 445.6,532.4 445.1,529.5 443.2,524.6 439.8,518 432.9,508.1 432.1,505.5 431.9,501.8 433.3,498.4 435.5,496.6 447.4,492.6 452.4,490.2 456.9,487.4 460.3,484.4 461.8,482.3 462.7,480.1 468.1,460.6 471.1,442.7 471.5,436.4 470.9,430.9 469,425.1 465.4,418.4 460.1,410.6 454.2,403.6 447.6,398.3 435.9,392.1 429.8,390.6 419.1,390.2 352.3,392.2 340.2,392 337.5,392.5ZM351,397L360.7,396.7 362.2,397.9 362.3,399.8 361.4,401.1 356.2,404.2 354.4,404.4 353.4,403.8 349.8,400 349.7,398.3ZM365.8,401L365.8,398.1 367.1,396.6 377.9,396.2 378.9,396.5 379.8,397.5 380.4,401.5 379.6,403.1 376.9,404.9 374.7,407.4 373.3,407.9 371.9,407.4ZM344.8,400.4L351.8,406.9 352.5,408.4 352.1,411.7 351.4,412.9 345.1,415.1 343.6,414.5 342.9,413.4 341.8,402.7 342.6,400.9 343.6,400.4ZM355.5,413.4L355.8,409.3 356.2,408.2 362.9,404.3 364,404.4 364.9,404.9 370.2,410.4 370.7,411.6 370.3,413.1 369.3,413.9 359.3,416 357.8,415.7ZM379.6,409.2L381.3,407.9 382.8,407.6 384.2,407.9 385.9,409.2 395.4,430.8 395.5,431.5 394.9,432.3 394,432.5 393.2,431.9 379.6,413.4 379,411.3ZM344.3,419.2L352.1,416.4 353.9,416.7 355.7,418.2 356.3,419.4 356.3,426.2 355.9,427.4 355.1,428.2 354,428.5 346.7,428.7 345.5,428.2 344.6,427 343.7,421.1ZM372.1,426L373.8,419.5 374.8,418.5 376,418.2 377.7,419.2 382,425 382.3,426.3 381.6,427.9 380,428.5 373.7,427.8 372.6,427ZM359.7,428.1L359.6,421 360.3,419.6 361.2,419 367.5,417.7 369.4,418.4 370,419.3 370,420.4 367.9,426.8 362.3,429.5 360.8,429.3ZM365.4,433.9L367.1,432.5 368.5,432.2 391.7,434.8 392.5,435.3 392.8,436 392.5,436.7 391.7,437.2 368.5,439.8 366.4,439.1 365,437.4 364.8,435.3ZM347.2,432.2L356.3,431.7 357.6,432.1 359.7,434.5 360.3,439.1 359.9,440.4 358.3,441.4 349.8,442.4 348.6,442.1 347.6,440.9 346.1,434.5 346.3,433.2ZM375.8,451.5L373.5,447 373.5,445.8 373.9,444.8 375.5,444 380,443.5 381.4,444 382.2,445 382.2,446.6 379,451 377.5,452ZM350.5,445.9L357.6,444.8 358.7,445.1 359.5,445.8 359.9,447.6 358.2,455.5 357.3,456.7 354.3,457.8 353,457.4 352.3,456.7 349.6,448.3 349.7,447ZM393.2,440.1L394,439.5 394.7,439.6 395.4,440.3 395.4,441.2 386.2,462.1 385.4,463.3 384.2,464.1 382.8,464.4 381.3,464.1 380.1,463.3 379.3,462.1 379,460.7 379.3,459.2ZM365.3,444.4L368.1,444.7 369.3,445.6 373.8,456 373.6,457.4 372.9,458.3 368.5,460.5 367.1,460.3 362.7,457.7 361.6,456.1 363.6,446 364.3,444.9ZM355.5,461.3L358.5,459.9 359.6,459.8 365.2,463.1 366.2,464.8 365.6,468.3 360.9,471.6 359.8,471.8 358.7,471.4 357.9,470.5 354.9,463.6 354.8,462.4ZM369.9,463.9L371.9,462.6 373.7,462.8 376.3,466.5 378.3,468.3 378.7,469.4 378.6,470.5 376.5,473.1 375.3,473.5 374,473.1 369.7,468.9 369.3,467.5 369.5,464.9ZM377.9,477.3L378.4,476.2 382.3,471.4 384,471.1 385.5,472 386.3,477.7 386,478.8 385.3,479.6 381.5,480.7 380.4,480.6 378.3,479.1ZM361.6,475.5L366,472.2 367.8,472.1 372.7,476.5 373.2,477.5 373.1,478.7 372.4,479.8 367.5,483 365.6,483.3 364.4,482.5 361.6,477.7 361.4,476.6ZM383.7,493L382.4,485.7 383,484.1 384.2,483.4 390.3,481.8 392.9,482.6 393.7,484.2 393.8,489.5 393.2,490.8 386.1,493.9 384.8,493.8ZM368.8,486.5L369.5,485.7 374.9,482.1 376.5,482.1 378.2,483.2 378.9,484.4 380.2,493.9 379.7,495.6 378.6,496.3 377.3,496.4 374.5,494.4 368.9,488.9 368.5,487.9ZM400.5,395.8L401.6,395.4 409.1,395.2 410.5,396.3 410.8,398 409.1,401.2 408.2,401.8 406.9,401.9 400.1,399.5 399.5,398.5 399.4,397.4ZM384.5,396.3L385.6,396 394.3,395.8 395.2,396.4 395.8,397.3 395.9,399.8 391.2,404.7 390.2,405.1 389.1,405.1 384.8,402.8 384,402 383.4,398.1 383.7,397.1ZM413.2,401.2L415.5,395.9 416.7,395 424.2,394.9 425.3,395.3 426.1,396.4 426.8,402.2 426.7,403.4 421.7,408.2 420.4,408.3 419.4,407.8 417.1,404.9 413.9,402.8ZM398.4,402.9L402.7,404.1 403.7,405 403.9,406.3 399,417.5 398.1,418.4 396.8,418.7 395.7,418.3 395,417.5 392,410.7 391.8,409.5 392.5,408.1 397.4,403.3ZM421.2,413.8L427.4,407.5 428.4,407 430.2,407.2 433.2,409.5 433.9,410.6 433.6,416.4 429.3,419.4 427.8,419.3 422.2,416.4 421.2,415.2ZM408.1,409.2L409.2,408.2 410.5,407.6 412.7,407.9 413.9,408.7 414.7,409.9 415,411.3 414.7,412.8 400.8,431.9 400,432.5 399.3,432.4 398.6,431.7 398.6,430.8ZM427,423L427.3,425.7 426.7,426.7 425.7,427.2 414,428.5 412.6,428 411.7,426.7 412.1,424.8 416.4,419.1 417.5,418.4 419.1,418.6 426.2,422.2ZM401.6,435.1L402.3,434.8 425.5,432.2 426.9,432.5 428.2,433.3 429,434.6 429.2,436 429,437.4 428.2,438.7 426.9,439.5 425.5,439.8 402.3,437.2 401.3,436.2ZM418.2,455L417.4,454.3 411.9,446.8 411.8,445 412.9,443.7 414.2,443.5 420.8,444.2 421.8,444.7 422.5,445.6 421.9,454 420.4,455.2ZM398.9,439.9L399.8,439.5 400.6,439.9 414.4,458.6 414.9,460 414.9,461.4 414.4,462.8 413.3,463.8 412,464.4 410.5,464.4 409.2,463.8 408.1,462.8 398.6,441.2ZM394.8,452.9L395.5,452.1 397.1,451.7 398.6,452.1 399.4,452.9 403.4,462.5 403.4,463.2 402.9,464 402,464.2 401.3,463.9 394.8,455.9 394.3,454.4ZM417.8,466.9L419.6,463.9 420.8,463.4 422.1,463.6 423,464.6 424.6,468 424.5,469.9 423,471.4 421,471.4 418.1,468.6ZM391.6,472.6L400.8,467.1 401.8,467.1 402.4,467.7 402.2,469.1 394.6,477.1 392.5,477.1 391.2,476 390.8,474.5ZM405.5,467.7L406.3,467.1 407.3,467.3 415.9,473.2 416.7,475.2 415.9,477.1 413.9,477.9 412,477.1 405.5,469.1ZM397.2,481.7L402.2,476.4 403.7,476 404.9,476.4 406,477.9 408,487.6 407.5,489.5 401.1,493.1 399.7,492.9 398.1,491.8 397.2,490.2ZM412.3,483L417.7,482.2 418.7,482.4 419.7,483.4 419.9,484.5 419.6,485.6 416.1,490.1 414.3,490.2 412.4,489.3 411.7,488.5 410.9,484.9 411.4,483.7ZM418.7,493L423.1,486.4 424.5,485.6 431.9,488 432.8,489 433.3,490.9 432.8,492.7 429.9,495.2 428.2,497.7 426.8,498.4 420.5,497.2 418.8,494.4ZM404.4,507.5L402.4,497.8 402.9,496.1 409.9,492.3 411.1,492.4 414.8,494.1 416.7,497.7 416.2,499.6 409.2,508.2 407.6,508.6 405.4,508.2ZM384.6,498.3L394.2,494.3 395.9,494.4 398.2,496 398.9,496.9 400.2,504.2 400,505.5 398.9,506.6 397.6,506.8 389.2,503.9 384.5,501.2 384,499.7ZM414.2,507.9L419,501.5 420.8,500.8 425.5,501.6 426.6,502.3 427.2,503.3 428,508.9 427.5,510.2 424.9,512.7 423,513.4 415.2,510.2 414.4,509.2ZM431.4,395.9L434.3,396.5 443.4,401.1 444.3,402.5 444,404.2 443,405.1 437.1,407 435.2,406.8 430.9,403.6 430.3,402.6 429.7,397.7 430.3,396.6ZM437.4,416.2L437.3,411.8 438.1,410.3 444.2,408.3 445.3,408.4 446.2,409.1 446.7,410.3 446.8,418.2 445.9,420 444.7,420.5 443.5,420.3 438.1,417.1ZM453.2,409.9L456.3,413.4 459.7,418.2 460.1,419.3 459.9,420.4 459.3,421.3 455,423 451.3,422.1 450.5,421.3 450.1,420.3 450.2,411.4 451.5,409.9ZM431.2,428.1L430.9,422.9 431.5,422 434.9,419.9 436.7,420.1 441.9,423.1 442.7,424.4 442.6,426.1 441.1,428.3 440,429 433.1,429.3 432,428.9ZM457.3,426L461.5,424.1 462.6,424.2 463.7,424.9 465.3,428.4 466.6,432.9 466.8,436.1 465.9,437.6 464.5,438 459.2,437.4 457.6,436.5 457.1,435.2 456.8,427.6ZM443.4,431.2L446.7,425.9 447.5,425.1 449.3,424.9 452.1,425.8 453.1,426.6 453.5,427.8 453.9,437.3 453.4,438.5 450.3,441.5 448.6,441.8 446.6,441.2 445.7,440.5ZM433.7,439.8L434.2,434.4 434.8,433.2 435.9,432.6 438.3,432.4 439.9,433.1 440.5,434 442,439.9 441.4,441.7 439.3,442.9 438.1,443 434.7,441.2ZM456.2,440.6L464.2,441.3 465.6,442.1 466.2,444 465.3,448.7 464.6,449.8 463,450.3 455.5,449.9 454.1,449.2 452.7,445.8 452.5,444.5 453.2,443.3ZM425.8,452L426,446.2 427,444.7 431.1,443.3 435.6,445.8 435.9,447.8 434.7,451.9 433.8,453 432.8,453.3 427.7,453.3 426.5,452.8ZM439.8,457.7L437.9,455.6 437.5,454.3 439.9,446.6 444.4,444.3 448.6,445.4 449.3,446.2 451.1,450.8 450.6,452.9 441.6,457.8ZM455.8,453.5L462.3,453.6 463.9,454.7 464.2,456 463.3,461 462.6,463.4 461.7,464.4 460.4,464.7 458.8,464.3 457.3,463.2 454.4,456 454.7,454.5ZM425.6,456.9L433.5,456.7 434.7,457 437.8,461.2 437.9,463.2 437.5,464.2 432.7,468.3 429.7,468.4 428.6,468.1 427.7,467 424.5,459.7 424.6,458.1ZM442,461.7L448.9,457.8 450.4,457.6 452,458.8 453.7,463.1 453.8,464.3 452.7,465.7 449.2,467.9 447.7,468.1 442.1,464.4 441.5,462.9ZM435.6,470.6L438.6,467.7 439.7,467.4 440.8,467.7 446.2,471.5 446.7,475.6 446.4,476.9 445.2,477.9 440.2,479.3 438.4,479 437.4,477.8 435.5,472ZM454.7,481.8L450.3,477.9 449.9,472.2 450.9,470.7 456.1,467.6 457.4,467.4 460,468.3 460.6,469.3 460.7,470.4 457.6,480.3 456.4,481.6ZM435,481.5L434,483.6 432.4,484.4 425.3,482.1 424.3,481.1 423,478.1 423,476.2 427.7,471.9 431.2,471.9 432.4,473.1ZM436,487.5L437.6,484.1 438.4,483.2 446.9,480.9 448.9,481.3 450.4,482.7 451,483.7 450.9,485.1 449.8,486.3 445.6,488.3 438.9,490.4 437.8,490.3 436.8,489.8ZM427.4,515.3L428.9,513.7 430.9,513.8 432.9,516.3 432.8,518.3 431.4,519.3 429.6,519.1 427.6,517Z" fill="url(#b1rh)" fill-rule="evenodd" stroke="#2a98a4" stroke-width="0.6"/>
<path d="M516,211.2L512.6,211.5 505.9,212.9 499.1,214.9 492.2,217.5 473.4,226.1 454.8,236.4 438.4,246.8 426.8,255.2 417.3,263.5 398.6,281.2 388.2,293 375.8,310 367.8,322.5 353.3,348.4 347.1,361.4 336.5,388.5 335.8,391.2 335.9,392.3 336.4,393.1 338.6,393.7 352.3,392.2 419.7,390.7 430.3,389.8 430.9,389.5 431.6,388 432.4,387.5 449.1,380.2 460.3,374.5 468.8,368.9 476.1,362.6 481.7,355.6 485.2,348.8 487.8,341.1 489.3,332.4 490.4,315.6 490.5,306.1 489.8,299.9 486.7,290.3 486.2,287.1 485.9,280.7 486.8,273.9 490.4,264.6 497.4,249.5 500.6,244.2 508.8,232.9 515.6,221.2 517.8,215.8 518.3,213.5 517.9,211.9ZM399.4,287.5L401.9,284.5 405,281.8 407,282.1 409,284.8 409.1,285.9 408.5,287.1 403.1,290.8 401.7,290.8 400,289.8 399.3,288.6ZM390.2,298.4L393.4,293.9 395.6,291.9 397.3,292 400.2,293.9 401,294.9 401.3,297.1 400.8,298.4 395.5,302.6 393.9,302.5 391,300.5 390.4,299.5ZM397.5,309.5L396.9,307.1 397.3,305.8 402.6,301.4 404.6,301.5 408,303.8 408.7,304.7 408.8,306 408.4,307 403.3,312.2 401.4,312.1ZM382.4,309L386.1,303.5 387.6,302.8 388.9,303.1 392.9,305.9 393.5,306.9 393.8,308.6 393,310.4 388.5,313.7 387.4,314 385.9,313.5 383,310.9ZM374.7,320.6L378.3,314.6 379.6,313.7 381.6,314 384.7,316.9 385.2,317.8 385.1,321.4 384.4,322.4 383.4,322.9 376.4,323 375.1,322.1ZM388.6,324.3L388.6,318.7 388.9,317.6 394.7,313.3 395.8,313 396.9,313.2 401.6,316.5 401.8,318.7 399.8,321.8 398.9,325.6 398,326.5 391.8,327.7 390.7,327.1ZM368.6,331.1L370.5,327.3 372.2,326.4 385.4,326.3 386.6,327.1 388.3,329.4 388.7,330.5 386.2,337.9 382.8,340.4 381.6,340.7 378.4,340.6 377.4,340.1 369.2,332.7ZM390.1,337.8L391.6,332.5 392.3,331.6 393.3,331 399.5,329.8 400.5,330.2 402.7,332.4 405.3,334.1 406.1,338.9 405.7,340 402.6,344.3 400.7,345.1 399.6,344.7 391.1,339.4ZM358.6,349.1L358.9,348 365,337.2 366,336.3 367.3,336.1 368.4,336.5 373.9,341.7 374.2,342.8 373.9,343.9 368.4,351.1 360.4,351.4 359.1,350.6ZM403.8,348.7L407.5,343.1 408.8,342.2 409.9,342.2 414.9,343.9 416.1,345.4 415.9,347.1 413.1,351.3 411.9,352.1 406.3,352 404.3,350.5ZM385,343.2L386.8,341.7 388.7,341.8 398.9,348.2 399.6,349.6 399.3,351 391,357.7 389.7,358.1 388.6,357.7 387.5,356.3 384.8,344.7ZM374.8,357.7L372.1,354.1 372.1,352.1 377.5,344.5 378.8,343.9 380.2,344.1 381.6,345.5 383.4,352.9 383.3,354.3 382.2,355.4 379.2,356.3 376.8,357.7ZM362.9,364.5L361.8,357.3 362,356 362.7,355.1 363.8,354.7 368.3,354.9 372.6,360.8 372.9,361.9 372.6,363 369.6,365.9 368.5,366.3 364,365.3ZM391.2,367.8L390.4,366.5 389.9,364.3 390.4,362.4 400.8,354.3 402.3,353.9 403.7,354.6 404.3,356 405.3,366.1 404.6,368 403,368.7 399,367.6 392.7,368.3ZM349.9,367.5L350.1,366.4 354.2,356.8 355.7,355.8 357.4,356.1 358.5,357.7 359.3,364.4 358.9,365.7 353.5,369.8 351,369.2ZM379.8,362.2L380.4,361.3 381.6,360.7 383.1,360.8 384.2,361.7 386.1,371.4 385.6,372.7 384.7,372.9 383.9,372.4 379.8,364.1ZM372.1,373.9L371.6,373 371.2,370.2 371.4,368.9 373.3,367.1 375.2,367.1 376.2,368 377.6,370.8 377.5,372.5 376.7,373.5 374.5,374.6 373.2,374.6ZM357.1,375.6L356.1,373.8 356.3,372.2 361,368.5 362.4,368.3 366.3,369.3 367.8,370.6 368.8,377.2 368.3,378.4 367.4,379.1 365.8,379.2ZM388.6,374.1L398.5,372.5 400.3,373.2 401,375 400.3,376.8 398.5,377.5 389,376.2 388.3,375.2ZM342.9,386.2L343,385 347.3,373.4 348.1,372.6 349.2,372.3 351.8,373.2 352.6,374.2 353.5,377.3 349.5,386.8 348.3,387.7 344.9,388.1 343.5,387.4ZM374.1,380.6L382.7,375.9 383.6,375.9 384.3,376.6 384.1,377.9 376.8,384.7 374.9,384.7 373.8,383.7 373.4,381.9ZM400.3,382.6L404.3,379.9 406,379.8 406.9,380.4 407.5,381.3 407.5,384.7 406.8,385.8 405.8,386.3 401.4,386.3 400.5,385.7 399.9,384.7 399.8,383.6ZM354.1,385.3L355.8,380.7 356.6,380 357.6,379.7 365.8,382.8 366.7,383.6 367.1,384.8 366.4,386.5 364.8,387.2 356,387.4 354.6,386.6ZM385.7,383.6L387.7,381.4 389.9,381.3 390.9,381.7 391.6,382.5 391.9,384.7 391.4,385.7 390.5,386.4 387.5,386.6 386,385.6ZM443,249.8L443.7,248.9 446.2,247.3 447.7,246.9 455.4,251.3 456.5,253 456.6,257 456.3,258.1 450.1,262.6 448.8,262.9 447.7,262.6 445.5,261.2 444.8,260.1 442.9,251.1ZM428.1,260.7L429.7,258.9 436.9,253.5 438.7,253.3 440.1,254.4 441.3,259.8 441.1,261.1 434.6,265.8 433.5,266.1 432.5,265.9 428.9,263.2 428,262ZM435.9,275.8L435.2,270.6 436.1,268.8 443,264.3 444.5,264.5 447.4,266.4 448.2,268.5 448,269.8 443.3,276.2 442.3,276.6 437.8,276.8 436.7,276.5ZM419.3,268.3L422.9,264.7 424.2,264.4 425.5,264.8 431.7,269.7 432.4,275.8 432,277.3 430.9,278.2 429.8,278.3 422.5,276.7 421.8,275.9 419.3,269.9ZM409.2,277.8L413.7,273.1 415.1,272.5 416.2,272.7 417.2,273.6 418.7,277.4 418.2,278.8 414.9,282.4 413.3,283.1 411.7,282.6 409.6,279.9 409.1,278.9ZM435.5,280.5L442.1,279.9 443.7,280.4 448.7,286.3 448.8,287.7 447.9,290.9 446.9,291.6 445.6,291.7 435.1,287.9 434.4,286.6 434.4,282.5 434.7,281.4ZM419.9,291.5L416.7,287.9 416.3,286.3 416.8,285.3 420.8,280.8 422.8,280.3 429.4,281.6 430.5,282.4 431,283.6 431,287.8 430,289.7 428.8,290.2 424.8,290.2 421.2,291.6ZM405.1,297.7L404.4,295.3 404.9,293.8 411.7,289.1 412.9,289.1 413.9,289.7 418,295.3 417.6,301.3 416.9,302.4 415.8,303 412.5,302.8ZM436.5,292.3L447.1,295.7 448,296.5 449,298.7 448.9,300.5 443.6,310 442.3,310.9 440.7,310.8 439.6,309.7 434.6,295.3 434.9,293.4ZM422.8,297.5L424.3,295.7 426.5,295 428,295.3 429.8,296.8 438.6,322.1 438.7,322.8 438.2,323.6 437.2,323.8 436.4,323.3 423.2,301.2 422.5,299ZM442.4,322.4L455,299.6 456.1,298.5 457.6,297.9 459.1,297.9 460.6,298.5 461.7,299.6 462.3,301 462.3,302.6 461.7,304 444.3,324 443.7,324.3 442.7,324.1 442.2,323.3ZM407.2,313.5L413.2,306.7 415.1,306.4 416.5,307.4 416.9,308.6 416.4,315.1 415.4,316.8 413.9,317.2 408.6,316.2 407.4,315ZM419.8,317.3L419.6,316.2 420.2,312.3 421.6,311.3 423.3,311.6 426.2,315.9 426.4,317 426.1,318.1 425.2,318.9 423.9,319.2 421,318.6ZM404.8,323L406.6,321.5 408.9,321.3 434.3,326.3 435.1,326.8 435.2,327.7 434.7,328.5 434,328.7 407.3,329.1 405.3,328 404.4,326.7 404.1,325.2ZM410.4,334.4L422.8,333.9 424.2,334.7 424.7,336.5 424.3,337.5 421.1,341.2 419.2,341.8 410.1,338.6 409.4,337.5 409.2,336.2 409.6,335.1ZM418,352.7L435.7,332 436.6,331.7 437.4,332 437.7,333.4 424.5,357 423.2,357.9 421.6,358.2 420.1,357.9 418.8,357 418,355.7 417.6,354.2ZM441.5,332.7L442.5,332.2 443.6,332.7 457.2,355.5 457.5,357 457.2,358.5 456.4,359.8 455.1,360.7 453.5,361 452,360.7 450.7,359.8 449.8,358.5 441.4,333.9ZM439.6,360.9L435.7,348 436.6,345.8 438.2,345 439.5,345.3 440.4,346.3 444.7,359 444.4,360.5 443.2,361.4 441,361.6ZM408.8,364L408.3,362.8 407.9,357.1 409.2,355.6 411.7,355.6 412.9,356.5 414,358.9 415.4,360.7 415.6,362.6 414.4,364 410.9,364.9 409.6,364.7ZM425,363L428.3,360.2 431.4,355.7 433.1,355.4 434.5,356.4 436.2,361.9 436.2,363 432.4,367.6 431.4,368.1 428.6,368.2 427.3,367.9 425,365.1 424.7,364ZM442.5,377.4L436.4,371 435.9,369.7 436.2,368.4 438.7,365.7 439.7,365.1 448.1,364.5 449.9,365.2 450.9,366.3 452.3,371.5 452.1,373.2 451.1,374.1 444.3,377.3ZM405.9,372.7L407.6,369.7 408.5,369 419.9,366 421.8,366.5 424.2,370.1 424,371.5 422.9,373.7 422.1,374.5 410.9,378.2 409.7,378 408.8,377.3 406.3,374.2ZM428.1,382.8L425.8,376.7 425.9,375.2 427.2,372.6 427.9,371.8 432,371.5 437.5,377.2 438,378.3 437.8,379.4 436.8,380.6 430.4,383.3 429,383.3ZM411.2,385L411,382.9 411.9,381.4 421,378.4 422.3,378.7 423.1,379.4 424.4,383.4 424,385 422.5,385.9 413,386.2 412,385.8ZM502.3,219L508.9,217.1 510.5,217.8 511.1,219.5 507.8,225.6 507,226.3 505.9,226.5 504.3,225.8 501.8,221.7 501.7,220.2ZM490.7,223.5L495.9,221.1 497.1,221.2 498.2,222 503.5,231.3 503.2,232.8 500.5,236.2 499.2,236.7 497.9,236.3 491,230.6 490.5,229.6 490.2,225.2ZM476.6,230L477.4,229.3 484.3,226.1 486.1,226.5 487.1,228 487.2,229.7 486.7,230.9 481.6,234.8 480.4,234.8 476.9,233.1 476.2,231.5ZM484.4,244.1L483.9,242.8 483.7,238 488.3,234.1 490.3,234.4 495.9,239 496.7,240.1 496.5,241.8 495.2,243.9 494.3,244.5 486,244.9ZM470.8,234.4L472.2,234.6 479,237.8 480.1,238.8 480.7,245.7 480.2,246.8 477.6,249.3 476.2,249.6 475.1,249.3 470.3,246.2 469.7,245.3 468.9,236.4 469.5,235.2ZM452.9,243.3L453.6,242.5 462.7,237.1 464.5,237.2 465.6,238.5 466.1,244.2 465.8,245.4 464.8,246.3 459.1,248.7 457.4,248.6 453.3,246.1 452.6,244.8ZM483.2,248.6L489.3,248.1 491,249 491.5,250.1 491.3,251.2 488.7,256.2 487.4,256.7 486.1,256.4 482.2,252.2 481.8,250.2ZM460.2,257.9L459.8,253.2 460.3,252.1 461.2,251.4 467.8,248.9 471.9,251.2 472.7,252.2 472.9,253.7 470.1,261.6 468.9,262.9 467.8,263.1 466.8,262.8ZM473.1,263.8L473.2,262.7 475.9,254.9 476.6,254.1 477.7,253.6 479.6,254.2 485.5,260.8 486,261.9 486,263 484.2,267.4 483.4,268.2 482.3,268.6 474.2,265.5ZM451.9,268.7L451.3,267.2 451.8,265.6 458,261.4 459.5,261.7 464.9,265.6 465.9,267.3 465.7,268.4 463.2,272.8 461.5,273.7 460.2,273.4ZM464.8,277.2L465.1,276.1 469.1,269.1 470.7,268 472,268.1 480.6,271.8 481.9,273.3 481.2,281.6 480.6,282.7 479.4,283.4 469.1,282.7 465.3,278.8ZM446.8,277.6L449.6,273.3 451.4,272.6 457.9,276 458.6,276.8 458.9,277.9 458,279.7 452.6,283 451.5,283.3 450,282.6 447.3,279.5ZM451.6,292.4L451.5,291.1 452.6,287.1 460.9,281.7 462,281.4 463.2,281.6 465.5,284.2 465.7,286 463.7,292 462.8,293 461.6,293.3 457.9,292.9 453.6,293.8 452.4,293.4ZM465.9,297L466,295.6 468.6,287.8 469.4,286.7 470.7,286.2 477.7,286.7 479.5,287.6 479.9,288.7 479.7,289.8 474.3,299.5 473.1,299.9 468.3,300 467,299.1ZM478,300.7L480.3,296 481.7,295.4 483,295.7 484,296.7 484.9,299.5 485.6,303.4 485.4,304.7 484,305.8 482.3,305.7 478.5,302.1ZM467.7,303.7L473.8,303.1 474.9,303.4 479,307.2 479.4,308.3 479.1,309.6 475.3,313.5 474.1,314 472.8,313.8 466.4,310.5 465.3,309.4 465.1,308.1 466.9,304.5ZM477.4,321.8L476.5,318 476.9,316.6 482.2,311.4 483.5,311 484.8,311.4 485.8,313.2 485.5,320.4 485.1,321.6 483.6,322.5 479.3,322.8 478.2,322.5ZM472.2,321.5L471.1,321.9 457.4,322.1 455.8,321.3 455.3,319.5 455.8,318.3 460.5,313 462.4,312.4 472.6,317.4 473.2,318.3 473.4,319.7 473,320.7ZM445.1,327.6L446,327.3 472.7,326.9 474.1,327.5 475.2,328.6 475.8,330 475.8,331.6 475.2,333 474.1,334.1 472.7,334.7 471.1,334.7 445.7,329.7 444.8,328.8ZM470.7,340L474,339.5 476.7,338.4 478.2,338.6 482.1,341.7 482.3,343.1 481.7,345 481,345.9 479.9,346.3 471.2,346.2 470.2,345.1 469.4,342.1 469.8,340.9ZM461.4,352.2L453.8,340.1 453.7,338.3 455,337 456.3,336.9 463.9,338.4 465.3,339.6 467.1,347.8 463.9,352.1 462.7,352.5ZM469.8,350.2L470.9,349.7 476.2,349.7 477.4,350.3 478,351.5 477.8,353.1 476,355.6 473.3,358.8 472.1,359.5 470.1,358.9 466.9,355.2 467.2,353.4ZM455.3,366.2L459.8,363.4 461,361.9 462.3,359.4 463.3,358.6 464.4,358.5 465.4,358.9 467.9,361.7 468,363 467.3,364.2 458,370.4 456.5,370.4 455.2,369.5 454.7,367.6Z" fill="url(#b1rf)" fill-rule="evenodd" stroke="#2a98a4" stroke-width="0.6"/>
<path d="M327,371L325.2,371.7 323.4,373.7 321.8,376.6 320.5,380 319.6,384 318.8,394 318.3,415 318.7,435.8 320,450 323,467 327.5,486 332,467 335,450 335.9,435.8 336.2,407 335.4,388.7 334,380 332.6,376.6 330.8,373.7 328.8,371.7Z" fill="url(#b1bd)" fill-rule="evenodd"/>
<path d="M327,371L325.2,371.7 323.4,373.7 321.8,376.6 320.5,380 319.6,384 318.8,394 318.3,415 318.7,435.8 320,450 323,467 327.5,486 332,467 335,450 335.9,435.8 336.2,407 335.4,388.7 334,380 332.6,376.6 330.8,373.7 328.8,371.7Z" fill="url(#glit)" fill-rule="evenodd"/>
</g>
<linearGradient id="b2lf" gradientUnits="userSpaceOnUse" x1="790" y1="215" x2="985" y2="385"><stop offset="0" stop-color="#98cef4"/><stop offset="0.45" stop-color="#86caf2"/><stop offset="0.75" stop-color="#b0e4ee"/><stop offset="1" stop-color="#3cd8f4"/></linearGradient>
<linearGradient id="b2lh" gradientUnits="userSpaceOnUse" x1="980" y1="390" x2="850" y2="520"><stop offset="0" stop-color="#6cb4f4"/><stop offset="0.35" stop-color="#9aa8e6"/><stop offset="0.7" stop-color="#9a96e2"/><stop offset="1" stop-color="#8c94ec"/></linearGradient>
<linearGradient id="b2rf" gradientUnits="userSpaceOnUse" x1="1000" y1="400" x2="1180" y2="200"><stop offset="0" stop-color="#d2b2a2"/><stop offset="0.3" stop-color="#c2bc8a"/><stop offset="0.6" stop-color="#c2c68e"/><stop offset="1" stop-color="#ccd8a4"/></linearGradient>
<linearGradient id="b2rh" gradientUnits="userSpaceOnUse" x1="1000" y1="380" x2="1120" y2="530"><stop offset="0" stop-color="#b8a6b0"/><stop offset="1" stop-color="#b0a2aa"/></linearGradient>
<linearGradient id="b2bd" gradientUnits="userSpaceOnUse" x1="0" y1="360" x2="0" y2="460"><stop offset="0" stop-color="#8aa4f0"/><stop offset="0.5" stop-color="#8c90e8"/><stop offset="0.75" stop-color="#88b0d8"/><stop offset="1" stop-color="#9090e8"/></linearGradient>
<g id="b2">
<path d="M976.3,377.4L968.5,377.3 945,379 907.3,378.9 884,379.9 874.4,381.2 864.3,383.6 858.9,385.5 855.1,388.1 854.3,389.2 853.6,392 853.3,399.3 851.8,407.4 850.1,411.4 846.3,418.6 844.8,423.6 845.2,428.3 848,434.1 848.6,436.5 848.2,438.8 846,444.6 846,450 847.7,456.9 852.5,464.5 852.4,465.9 850.9,469.2 851.8,472 857.6,480.3 870.2,495.1 871.2,497 871.6,499 870.7,503.2 869,506.3 867.3,508.4 860.7,514.5 852.4,521.2 851.3,522.9 850.5,525.5 850.5,527.5 851.1,528.3 853.6,528.9 855,528.6 856.3,527.7 867.9,514 871.1,511.3 874.4,509.4 880.6,507.4 904.4,505.6 913.7,504.5 918.3,503.5 919.5,503 920.7,501.7 921.4,498.2 922.8,496.3 936.1,489.2 940.1,485.6 942.8,481.8 945,477 950.8,455.5 954.5,445.4 958.7,435.6 963.4,426.3 967,420 975,410.3 977.7,405.2 978.9,399.6 979.8,390.1 981.8,382.1 981.6,380.4 980.7,379 979,378ZM875.1,391L875.6,393.7 875.1,396.4 873.4,398.7 871,400.2 868.2,400.8 865.3,400.2 862.9,398.7 861.3,396.4 860.7,393.7 861.3,391 862.9,388.7 865.3,387.2 868.2,386.6 871,387.2 873.4,388.7ZM898.9,413.2L899.7,415 899.7,417.1 898.2,419.7 896.4,420.9 894.3,421.3 892.1,420.9 890.3,419.7 889.1,418.1 888.7,416.1 889.1,414.1 890.3,412.4 892.1,411.2 894.3,410.8 896.4,411.2ZM867.7,417.5L868.9,420.2 868.9,423.1 867.7,425.8 865.4,427.8 863.9,428.5 860.7,429.1 857.5,428.5 854.8,426.9 853,424.5 852.3,421.6 853,418.8 853.7,417.5 856.1,415.4 859.1,414.3 862.4,414.3 865.4,415.4ZM910.5,437.4L911.6,440.3 911.1,442.3 909.8,444 907.8,445.1 905.4,445.5 903.1,445.1 901.1,444 899.8,442.3 899.3,440.3 899.8,438.3 901.1,436.6 903.1,435.5 905.4,435.1 907.8,435.5ZM868.8,443.1L869.9,446.1 869.9,449.4 868.8,452.4 867.8,453.7 865.4,455.5 862.6,456.1 859.7,455.5 857.3,453.7 855.7,450.9 855.1,447.7 855.7,444.5 857.3,441.8 859.7,440 862.6,439.3 865.4,440 866.7,440.8ZM877,469.7L878.3,472.4 878.3,475.3 877,478 874.7,480 873.2,480.7 870,481.3 866.8,480.7 864.1,479.1 862.3,476.7 861.6,473.8 862.3,471 863.1,469.7 865.4,467.6 868.4,466.5 871.7,466.5 874.7,467.6ZM893.8,490.7L895,493 895,495.6 894.5,496.8 892.7,498.9 890,500.3 886.8,500.8 883.6,500.3 882.1,499.7 879.8,497.9 878.6,495.6 878.6,493 879.8,490.7 882.1,488.9 883.6,488.3 886.8,487.8 890,488.3 891.5,488.9ZM897.1,397.1L950.7,388 952.5,388.5 953.5,390.2 953.2,391.8 952,392.8 898.9,410.9 896.2,410.8 893.7,409.6 891.9,407.5 891.1,404.9 891.2,402.2 892.4,399.7 894.5,397.9ZM954,394.7L956,394.7 957.2,395.8 957.5,397.3 956.5,399 908.5,430.1 905.9,430.9 903.2,430.8 900.7,429.6 898.9,427.5 898.1,424.9 898.2,422.2 899.4,419.7 901.5,417.9ZM959,402.7L960.6,402.6 962,403.5 962.5,405 962,406.5 926.6,441.6 924.5,443 922,443.5 919.5,443 917.4,441.6 916,439.5 915.5,437 916,434.5 917.4,432.4ZM963.7,409.2L964.8,409 965.9,409.6 966.5,410.7 966.2,412 947,443 945.5,444.3 943.7,445 941.7,444.8 940,444 938.7,442.5 938,440.7 938.2,438.7 939,437ZM932.6,452.2L932.3,456.4 930.5,460.2 927.7,462.3 925.9,462.4 925,462 923.2,459.4 922.9,456.8 923.3,454 925.1,450.2 926.9,448.5 927.9,448.1 929.7,448 931.3,449ZM934,472.1L935.1,474.4 935.1,477 934,479.3 933.1,480.3 930.6,481.7 927.8,482.2 924.9,481.7 922.5,480.3 920.9,478.2 920.3,475.7 920.9,473.2 922.5,471.1 924.9,469.7 927.8,469.2 930.6,469.7 933.1,471.1ZM914.6,487.5L915.6,489.5 915.6,491.7 914.6,493.7 912.8,495.2 910.4,496.1 907.9,496.1 905.5,495.2 903.1,492.7 902.8,489.5 903.7,487.5 905.5,485.9 907.9,485.1 910.4,485.1 912.8,485.9Z" fill="url(#b2lh)" fill-rule="evenodd" stroke="#7a78b0" stroke-width="0.45"/>
<path d="M784.1,213.8L785.1,217.1 788,222.3 793.9,230.6 795.5,233.4 796.8,239 797.9,254.5 798.9,257 804.1,263.9 805.4,266.4 807.6,276.3 808.1,284.5 810.1,287.9 815.3,293.7 816.5,296.3 817.1,299.1 818.5,312 819.7,315.4 821.7,317.8 828.2,323.6 829.6,325.9 830.4,329.4 831.4,340.2 832.1,342.4 833.7,344.3 837.5,346.5 845.6,349.5 861,353.3 912.4,368.9 933.4,373.2 939.9,376.1 942.7,376.9 951.5,378.1 973.9,380 977.8,379.5 979,378.8 979.7,377.6 979.6,374.2 975.1,360.5 969,347.6 963.2,337.8 944.1,312.5 931.9,297.7 921.9,287.3 908,274.7 891.8,262.1 865,243 849.7,233.4 834.6,225.1 817.6,217.7 804.6,213 797.5,210.9 793.6,210.2 788.9,210.3 785.5,211.6 784.3,213ZM814.7,233.5L814.9,235.4 814.3,237.1 813,238.4 810,239.2 807.9,238.8 806,237.7 804.6,236.1 804,234.3 804.2,232.5 805.2,230.9 806.9,229.9 808.9,229.6 811.1,230 813,231.1ZM844.6,241.2L844.8,242.7 844.3,244.1 843.1,245.1 840.7,245.7 838.9,245.3 836.7,243.9 835.9,242.5 835.7,241 836.2,239.6 837.3,238.6 839.7,238 842.3,238.7 843.7,239.8ZM827.5,252.1L827.7,254.2 826.8,256.1 826,256.8 823.9,257.7 821.2,257.7 818.4,256.8 815.1,254.3 813.8,252.1 813.6,249.9 814.5,248.1 816.3,246.8 820.1,246.5 824.1,248.1 826.2,249.9ZM856.5,256.7L856.6,258.6 855.9,260.3 853.3,261.7 850.9,261.7 848.5,261 846.4,259.6 844.9,257.8 844.3,254.9 845.8,252.6 847.7,251.8 850,251.8 852.4,252.5 854.5,253.9ZM836.6,267.7L837.6,271.2 837,273.3 835.5,274.9 833.3,275.7 830.7,275.6 827,273.8 825.2,271.8 824.2,269.5 824.3,267.3 825.4,265.4 827.4,264.1 831.1,264 834.8,265.7ZM866.6,272.7L866.1,275.1 864.8,277.4 861.8,279.5 858.5,279.6 856.6,278.5 855.3,276.7 854.9,274.3 855.3,271.9 857.5,268.8 859.6,267.5 863,267.4 864.9,268.5 866.1,270.4ZM846.1,288.4L845.5,291.6 843.9,294.4 842.7,295.6 840,297.1 837,297.5 834.2,296.6 832,294.6 830.8,291.8 830.8,288.7 831.9,285.6 834,283.1 836.8,281.6 839.8,281.2 842.5,282.1 843.7,283 845.4,285.4ZM855.3,307.1L855.2,310.6 853.9,314.1 851.7,316.8 850.4,317.8 848.9,318.5 845.9,318.9 843.2,317.9 841.1,315.7 840.5,314.2 840,310.8 840.7,307.3 842.4,304.1 845,301.9 847.9,300.8 850.9,301.1 853.3,302.7 854.9,305.5ZM866,327.7L867.1,330 867.2,331.3 866.7,333.8 865.8,335 868.2,335.5 870.6,336.9 872.3,339 872.8,341.5 872.3,344 870.6,346.1 868.2,347.5 865.4,348 862.5,347.5 860.1,346.1 859.2,345.1 858.1,342.8 857.9,341.5 858.5,339 859.3,337.8 856.9,337.3 854.5,335.9 852.9,333.8 852.3,331.3 852.5,330 853.6,327.7 854.5,326.7 856.9,325.2 859.8,324.8 862.6,325.2 865.1,326.7ZM909.8,287.8L929.4,306.4 935.2,309.1 936.6,310.3 937.3,311.8 937.5,313.6 936.9,315.2 935.7,316.6 934.2,317.3 931.8,317.3 890.5,303 889,302.2 887.4,300.2 886.7,298.7 886.6,296.2 887,294.5 888.4,292.4 889.8,291.4 893,290.5 895.5,291 918.7,301.6 900.1,285.6 881.8,268.8 870.2,257 868.3,254.1 869.2,254.3 874.8,258.1 890.4,270.7ZM874.9,290.5L874.1,293.5 872.7,295.2 870.9,296.3 868.1,296.4 866.5,295.5 865.5,293.9 865.1,292 865.5,289.9 867.4,287.2 869.2,286.1 871.1,285.8 872.8,286.4 874.6,288.5ZM885.2,316.5L884.7,318.9 883.5,321.1 880.5,323.3 877.1,323.4 875.2,322.3 873.9,320.4 873.5,318.1 874,315.7 876.1,312.6 878.2,311.3 881.6,311.2 883.5,312.3 884.7,314.2ZM898.8,335.7L899.2,338.7 898.5,341.9 897,344.7 894.7,346.8 892.1,347.8 889.5,347.5 887.4,346.1 886.6,345 886,343.7 885.6,340.6 886.3,337.4 887.8,334.6 890.1,332.5 892.7,331.5 895.3,331.8 897.4,333.2ZM902.5,319.9L906,319 907.8,319.2 910.3,320.4 964.8,359.6 966,361.6 965.4,363.8 963.4,365 961.5,364.6 901.7,331.6 899.9,329.5 899,326 899.9,322.5ZM909,346.8L912,346 915,346.8 959.2,369.8 960.4,371.4 960.2,373.2 959,374.3 957.4,374.4 909,357.2 906.8,355 906,352 906.8,349Z" fill="url(#b2lf)" fill-rule="evenodd" stroke="#7890a0" stroke-width="0.45"/>
<path d="M1001.2,379.8L1000.7,381 1000.4,383.7 1001.6,397.7 1003,404.9 1004.1,407.1 1007.8,411.1 1009.2,413.8 1024.6,455.1 1030,471.8 1033,477.8 1036.6,483.5 1045.8,496.3 1048.2,498.8 1051,500.9 1055.8,503.2 1062.6,505.5 1080.6,510.9 1086,513.7 1089.7,517.2 1093.3,521.6 1104.8,539.4 1106.8,540.5 1108.2,540.5 1109.3,539.9 1110.1,539 1110.4,536.8 1109.9,533.7 1108.7,530.5 1103.6,522.3 1097.9,515.4 1094.4,510.2 1091.9,505.9 1090.5,501.8 1090.7,499.3 1092.2,495.9 1095,491.3 1100.9,484.3 1103.9,478.6 1106,471.2 1108.8,452.8 1109.7,450.2 1113.1,444.6 1113.8,442.1 1113.5,439.5 1111.6,433.8 1111,431 1111.3,428.2 1112.8,421.2 1112.5,415.5 1111,408.6 1108,401.8 1107.3,399.3 1107.5,387.7 1106.3,382.2 1105.1,379.8 1103.2,377.8 1101.7,376.9 1097.7,375.7 1089.7,374.6 1075.8,374 1058.9,375.1 1040.2,378.3 1034.6,378.8 1029.9,378.2 1019.9,375.2 1015.7,375.1 1006.8,376.5 1003.3,377.9ZM1023.2,389.2L1069,388.7 1071.6,389.5 1073.7,391.3 1074.9,393.8 1075,396.5 1074.2,399.1 1072.4,401.2 1069.9,402.4 1067.2,402.5 1022.9,394.1 1021.5,393.2 1021,391.7 1021.5,390.2ZM1022.1,397.9L1023.7,397.8 1067.8,410.7 1068.8,409.9 1070.8,409.1 1074,409.4 1075.8,410.5 1077.1,412.2 1077.4,415.2 1075.8,417.9 1074,419 1071.3,419.4 1070.3,421.3 1068.2,423.1 1065.6,423.9 1062.9,423.8 1021.9,402.4 1020.9,401.4 1020.6,400.2 1021.1,398.7ZM1018.7,406.9L1020.7,407.1 1053.8,430 1055.1,431.9 1055.6,434.2 1055.1,436.5 1053.8,438.4 1051.9,439.7 1049.6,440.2 1047.3,439.7 1045.4,438.4 1017.8,410.4 1017.4,408.4ZM1012.7,409.6L1014,409.5 1015.1,410.2 1037.2,440.8 1037.8,442.4 1037.6,444.2 1036.9,445.7 1035.5,446.9 1033.9,447.5 1032.1,447.3 1030.6,446.6 1029.4,445.2 1011.7,412.2 1011.7,410.6ZM1048.3,451L1049,455.2 1048.3,459.3 1046.4,462.1 1044.9,462.6 1044.1,462.5 1042,460.5 1041.1,458 1040.8,455.2 1041.5,451 1043.3,448.3 1044.9,447.7 1046.4,448.3ZM1050.1,472.1L1051.3,474.4 1051.3,477 1050.1,479.3 1048.1,481.1 1046.8,481.7 1043.9,482.2 1041.1,481.7 1038.7,480.3 1037.1,478.2 1036.5,475.7 1037.1,473.2 1038.7,471.1 1041.1,469.7 1043.9,469.2 1046.8,469.7 1048.1,470.3ZM1064.3,487.5L1065.2,489.5 1065.2,491.7 1064.3,493.7 1062.5,495.2 1060.1,496.1 1057.6,496.1 1054.2,494.5 1052.8,492.7 1052.3,490.6 1052.8,488.5 1055.2,485.9 1057.6,485.1 1060.1,485.1 1062.5,485.9ZM1099.3,387.1L1099.8,390 1099.3,392.8 1097.7,395.2 1095.2,396.9 1092.4,397.4 1089.5,396.9 1087.1,395.2 1085.5,392.8 1084.9,390 1085.5,387.1 1087.1,384.7 1089.5,383.1 1092.4,382.5 1095.2,383.1 1097.7,384.7ZM1104.2,413.3L1105.3,416.3 1105.3,419.6 1104.2,422.6 1102.1,424.9 1099.4,426.1 1096.5,426.1 1093.8,424.9 1092.7,423.8 1091.1,421.1 1090.7,419.6 1090.7,416.3 1091.8,413.3 1093.8,410.9 1096.5,409.7 1099.4,409.7 1102.1,410.9ZM1067.2,435.3L1068.1,437.3 1068.1,439.5 1067.2,441.5 1065.7,443.1 1063.7,443.9 1061.5,443.9 1059.5,443.1 1057.9,441.5 1057.1,439.5 1057.1,437.3 1057.9,435.3 1059.5,433.8 1061.5,432.9 1063.7,432.9 1065.7,433.8ZM1104.5,439.3L1105.9,442.3 1106.4,445.9 1105.9,449.4 1105.3,451 1103.5,453.6 1101.1,455 1099.8,455.2 1097.3,454.5 1095.2,452.5 1093.8,449.4 1093.3,445.9 1093.8,442.3 1094.4,440.7 1096.2,438.1 1098.6,436.7 1099.8,436.6 1102.3,437.3ZM1101.2,466.8L1102.5,470.1 1102.5,473.8 1101.2,477.1 1098.9,479.7 1095.9,481.1 1094.3,481.3 1091,480.6 1088.3,478.5 1086.5,475.5 1086,473.8 1086,470.1 1087.3,466.8 1089.6,464.2 1092.6,462.8 1095.9,462.8 1098.9,464.2ZM1086.3,490.7L1087.6,493 1087.6,495.6 1087.1,496.8 1085.3,498.9 1082.6,500.3 1079.3,500.8 1076.1,500.3 1074.7,499.7 1072.4,497.9 1071.1,495.6 1071.1,493 1072.4,490.7 1074.7,488.9 1076.1,488.3 1079.3,487.8 1082.6,488.3 1084,488.9Z" fill="url(#b2rh)" fill-rule="evenodd" stroke="#8c8088" stroke-width="0.45"/>
<path d="M1184.3,199.5L1182.9,198.6 1180,199 1166.6,203.4 1150.4,210.6 1136.2,218.4 1099.8,242.6 1085.7,252.6 1069.4,265.4 1055.4,277.9 1045.3,288.5 1033.8,302.4 1027.2,311.7 1021.1,322.1 1013,339 1007.3,354.1 1002.8,369.4 1002.5,374 1002.7,375.5 1003.4,376.6 1005.5,377.2 1009.9,376.5 1036.5,369.5 1055.5,361.1 1107,340.6 1119.3,335.1 1122.7,333.2 1125.2,331.1 1127.6,327.7 1133.4,313.6 1139.3,306.7 1140.8,304.3 1141.6,301.5 1142.1,295.7 1142.7,293.1 1143.8,291 1148.3,285.6 1152.7,277.3 1154.3,273 1155.1,265.8 1156.3,262.2 1165.4,250.5 1168.2,246.1 1169.2,241.7 1168.7,234.6 1169.1,232.5 1179.1,218.1 1184.7,207.9 1185.6,205.5 1185.9,202.8 1185.3,200.8ZM1097.5,250.5L1102.8,246.9 1103.7,246.7 1101.9,249.6 1099.3,252.5 1085.6,266.1 1067.3,282.7 1047,299.7 1074.8,285.1 1077,284.4 1078.6,284.4 1080.8,285.1 1082,286.1 1083.3,288 1083.8,290.3 1083.6,291.9 1082,294.5 1080.1,295.8 1039.5,312.6 1037,312.8 1035.2,311.7 1034.3,310.4 1034,308.9 1034.3,307.4 1035.2,306.1 1040.3,303.2 1048.2,294.4 1064.1,279.2 1082.6,262.7ZM1107.4,271.1L1109.3,272.6 1109.8,274.1 1109.4,275.9 1108.2,277.6 1106.6,278.9 1104.5,279.7 1101.6,279.7 1100.2,278.8 1099.2,276.6 1099.6,274.8 1100.8,273.2 1102.5,271.8 1104.5,271ZM1098.7,290.8L1100.1,291.7 1101.1,293.9 1100.8,295.6 1099.7,297.2 1098.2,298.5 1095.3,299.3 1093.5,299.1 1092.1,298.2 1091.3,296.8 1091.2,295.1 1092.5,292.7 1094.1,291.4 1096,290.7ZM1090.9,313.9L1093,317.6 1093.7,321.7 1092.7,325 1092,325.7 1090.3,326.3 1087.4,325.2 1085.6,323.3 1084.3,320.8 1083.6,316.6 1084.1,314.2 1085.3,312.6 1086.1,312.2 1088,312.1 1089,312.5ZM1110.9,317.9L1111.8,319.9 1111.8,322.1 1110.9,324.1 1109.1,325.7 1106.7,326.5 1104.2,326.5 1100.8,325 1099.4,323.2 1098.9,321 1099.4,318.9 1101.8,316.4 1104.2,315.5 1106.7,315.5 1109.1,316.4ZM1063,315.2L1066.2,314 1068.7,314.1 1070.2,314.8 1072.2,316.4 1073,317.9 1073.5,320.4 1073,322.9 1071.6,325 1014.6,363 1013.1,363.3 1011.6,362.6 1010.9,360.8 1011.6,359ZM1082.8,335.6L1084.2,336.9 1084.8,338.6 1084.2,341.4 1082.8,343 1080.9,344 1078.8,344.4 1076.8,344.1 1075.1,343.1 1074.1,341.6 1073.9,339.7 1074.5,337.9 1075.9,336.3 1077.8,335.3 1079.9,334.9ZM1058.4,343.5L1059.6,343.1 1061.6,343.3 1063.3,344.1 1064.6,345.6 1065.3,347.4 1065.1,349.4 1064.3,351.1 1062.8,352.4 1017.5,370.8 1015.5,370.8 1014.3,369.8 1014.1,367.9 1015.2,366.3ZM1160.7,220.2L1162,220.8 1162.7,222.7 1162.2,224.2 1161,225.7 1159.3,227 1157.3,227.9 1155.4,228.2 1153.2,227.4 1152.5,226.3 1152.7,224.8 1154.2,222.5 1156.9,220.7 1158.9,220.2ZM1128,234.5L1129.2,235.3 1129.3,236.2 1128.2,238.2 1126.4,239.4 1125.1,239.8 1123,239.4 1122.5,238.6 1122.6,237.6 1123.7,236.1 1126.1,234.7ZM1152.6,235L1154.9,236.7 1155.3,238.5 1154.9,240.5 1153.5,242.4 1151.6,244 1148,245.1 1145.8,244.9 1144.1,244 1143.2,242.4 1143.2,240.4 1144.9,237.5 1146.9,235.9 1149.2,235ZM1144,249.5L1145.8,250.7 1146.9,252.6 1147.1,254.9 1146.3,257.1 1144.7,259 1142.5,260.3 1140,260.7 1136.7,259.7 1134.8,257.1 1134.6,254.9 1135.4,252.7 1137,250.8 1139.2,249.5 1141.7,249ZM1121.5,251.7L1122.9,252.4 1123.6,253.7 1123.2,256.1 1122.1,257.7 1120.3,259 1117.3,260 1115.5,259.9 1114.1,259.2 1113.4,257.9 1113.4,256.3 1114.9,253.9 1116.6,252.6 1118.6,251.8ZM1133,269.6L1134.2,270.5 1136.2,273 1137.4,276.1 1137.5,279.1 1136.6,281.8 1134.8,283.6 1132.3,284.3 1130.9,284.2 1129.6,283.7 1127,282.1 1124.9,279.6 1123.8,276.5 1123.6,273.5 1124.6,270.8 1126.4,269 1128.9,268.3 1130.2,268.5ZM1124.2,291.6L1127.4,294.9 1128.8,297.8 1129.3,300.9 1128.9,303.7 1128.3,304.8 1126.7,306.3 1125.6,306.6 1124.5,306.6 1122.1,305.7 1119.8,303.8 1117.5,299.5 1117,296.4 1117.4,293.7 1117.9,292.5 1119.6,291.1 1121.8,290.7ZM1111.9,326.7L1115,328.9 1116.1,331 1116.1,333.4 1115,335.5 1113.1,337.2 1110.5,338.1 1107.8,338.1 1104.2,336.4 1102.6,334.5 1102.1,332.2 1102.6,329.9 1103.3,328.9 1105.2,327.2 1109.2,326.2Z" fill="url(#b2rf)" fill-rule="evenodd" stroke="#8e8e74" stroke-width="0.5"/>
<path d="M951.2,324.2L967.4,334.9 976.7,342.2 980.3,346.1 986.1,356.6 987.2,357.1 987.2,378 979.9,378 979,378.8 979,405 979.8,406 983.1,406 982.6,408.8 982.8,415.8 985,441.2 986.5,450 987.3,453 988.3,455.2 989.2,456.5 990.2,457 991.2,456.5 992.2,455.2 993.2,453 994.7,446.1 997.2,415.8 997.4,408.8 996.9,406 999.8,406 1000.5,405 1000.5,378.8 999.6,378 992,378 992,357 992.8,357 993.5,356.5 994.6,351.3 998.1,345.8 1001.9,341.6 1010.8,333.8 1011.1,332.7 1010.4,332 1009.4,332.1 999.2,341.3 993.6,348.5 992.2,351.4 991.7,353.9 990.7,352.9 989.4,352.6 988.1,353.1 987.3,354.3 982.1,344.9 976.8,339.3 962.2,328.7 952.5,322.5 951.3,322.7 950.9,323.4Z" fill="url(#b2bd)" fill-rule="evenodd"/>
<path d="M929.8,298 L931.5,297.2 L934,296 L936.8,294.9 L939.7,294.3 L942.7,294.2 L946,294.5 L949.2,295.1 L952.1,296.1 L954.8,297.6 L957.3,299.6 L959.4,301.7 L960.8,303.6 L961.4,305.2 L961.3,306.8 L960.8,308.1 L960.2,309.2 L959.3,310 L958,310.4 L956.7,310.8 L955.8,311" fill="none" stroke="#98a0b0" stroke-width="0.9"/>
<path d="M1036.5,294.9 L1035.2,294.4 L1033.3,293.8 L1031.2,293.2 L1029,293.1 L1026.7,293.6 L1024.2,294.4 L1021.7,295.5 L1019.7,296.8 L1018,298.4 L1016.6,300.4 L1015.6,302.4 L1015.1,304.2 L1015.3,305.9 L1016,307.5 L1017,308.9 L1017.9,309.8 L1018.6,310 L1019.4,309.7 L1020.1,309.2 L1020.6,308.9" fill="none" stroke="#a8c0a0" stroke-width="2.2"/>
</g>
<linearGradient id="b3lf" gradientUnits="userSpaceOnUse" x1="1440" y1="240" x2="1610" y2="420"><stop offset="0" stop-color="#84e2d4"/><stop offset="0.5" stop-color="#88e6de"/><stop offset="1" stop-color="#a0dcd8"/></linearGradient>
<linearGradient id="b3lh" gradientUnits="userSpaceOnUse" x1="1530" y1="430" x2="1540" y2="545"><stop offset="0" stop-color="#b0dcd8"/><stop offset="0.45" stop-color="#dadcdc"/><stop offset="1" stop-color="#eed6e2"/></linearGradient>
<linearGradient id="b3rf" gradientUnits="userSpaceOnUse" x1="1640" y1="400" x2="1820" y2="250"><stop offset="0" stop-color="#a8c4b4"/><stop offset="0.3" stop-color="#7cc086"/><stop offset="1" stop-color="#62b866"/></linearGradient>
<linearGradient id="b3rh" gradientUnits="userSpaceOnUse" x1="1720" y1="420" x2="1650" y2="545"><stop offset="0" stop-color="#62b862"/><stop offset="0.45" stop-color="#88b070"/><stop offset="1" stop-color="#aca46e"/></linearGradient>
<linearGradient id="b3bd" gradientUnits="userSpaceOnUse" x1="1608" y1="0" x2="1640" y2="0"><stop offset="0" stop-color="#b6dcdc"/><stop offset="0.6" stop-color="#c8e0e0"/><stop offset="1" stop-color="#b0c8c4"/></linearGradient>
<g id="b3">
<path d="M1605.7,399.8L1603.8,399 1598.9,398.3 1573.8,398.1 1531.6,398.6 1515.6,399.2 1509.8,400.3 1498.3,405.7 1493.3,408.9 1488.6,413.1 1485.7,416.8 1483.4,421 1480.4,429.1 1478.4,436.7 1476.9,445 1476.2,451.4 1476.2,467 1477.8,480.2 1479.1,486.3 1481.5,494.1 1484.4,501.6 1487.1,506.9 1490.3,511.6 1494.1,515.8 1499.8,520.7 1504.2,523.7 1508.8,526.3 1513.7,528.3 1524.3,530.9 1531.9,531.9 1537.9,532.2 1544.1,531.9 1550.9,531.2 1557.5,529.9 1565.3,527.8 1570.5,525.8 1575.2,523.3 1579.3,520.2 1583,516.7 1590.1,508.2 1593.9,501.1 1596.6,492.3 1600.7,474.8 1602.4,462.5 1605.3,422.1 1608.1,407.5 1608,402.7 1607.1,401ZM1497.5,411L1498.1,409 1498.9,408.5 1500.4,408.7 1501.4,409.5 1502.6,411.1 1502.9,413 1502.6,414 1501.6,414.9 1500,414.7 1498.6,413.5ZM1490.6,417.1L1490.4,415.4 1490.8,414.5 1491.6,414 1493.4,414.2 1495.6,415.8 1496.3,416.9 1496.6,418.7 1496.2,419.5 1495.4,420 1493.6,419.9 1491.9,418.8ZM1494.7,426.6L1496.6,423.1 1499.2,420.2 1503.8,416.9 1505,417.1 1505.3,418.9 1502.6,426 1496.4,427.7 1495.1,427.4ZM1486.2,425.4L1485.6,423.8 1485.7,422.8 1487.3,421.6 1489.8,421.8 1490.9,422.5 1491.9,423.9 1491.6,425.9 1490.2,426.7 1488.4,426.7ZM1483,433.9L1481.8,432.2 1481.8,431.1 1482.4,430.1 1484.3,429.3 1487.5,429.8 1489.4,431.2 1490,432.3 1490,433.4 1489.4,434.4 1487.6,435.2 1485.1,435ZM1490.4,441.8L1490.3,440.6 1491,437.8 1492.9,431.4 1500,429.5 1501.8,430.2 1502.4,432 1501.5,437.7 1500.9,438.8 1491.6,442.3ZM1481.3,442.2L1480,440.8 1479.9,439.8 1480.3,439 1482,438.2 1484.3,438.2 1485.9,438.7 1487.1,439.4 1487.9,440.9 1487.4,442.2 1485.7,443 1483.4,443ZM1488.8,452.2L1489.3,446.5 1489.8,445.7 1500.8,441.9 1502,442 1503.1,442.9 1503.4,445.9 1502.4,447.5 1490,452.8 1489.4,452.8ZM1480.3,451L1479,449.7 1478.8,448.8 1479.2,447.8 1480.1,447.1 1482.1,446.6 1483.6,446.8 1485,447.2 1486.3,448.5 1486.4,449.9 1485.2,451.1 1483.2,451.6ZM1480.2,459.6L1479,458.6 1478.8,457.6 1479.8,456 1481.5,455.4 1482.9,455.4 1484.6,456 1485.4,456.8 1485.5,458.2 1484.6,459.4 1482.1,460.1ZM1489.1,470.3L1488.6,464.2 1488.6,456.5 1497.6,452.4 1499.5,452.6 1500.5,454.2 1501.3,463 1501,464.2 1500.2,465 1490.4,470.6 1489.7,470.7ZM1480.6,468.8L1479,467.1 1479.1,465.4 1479.8,464.4 1481.5,463.5 1482.8,463.4 1485.1,464.5 1485.7,465.5 1485.8,466.6 1484.9,468.2 1483.2,469.1ZM1481.2,477.5L1480,476.9 1479.2,476 1479.2,474.3 1480,473.3 1481.2,472.5 1483.6,472 1485.8,472.4 1486.8,473.2 1487.3,474.8 1486.4,476.4 1483.6,477.7ZM1489.7,476.1L1489.7,474.4 1490.1,473.8 1503.7,466 1504.8,465.7 1506,466.1 1506.8,467.1 1509.2,475.5 1508.3,477.3 1494.6,487.3 1493.4,487.7 1492.7,487.6 1492.3,487ZM1483,485.8L1481.2,485.1 1480.7,484.3 1481.1,482.8 1482,481.9 1483.4,481.2 1485.8,480.7 1487.8,481.2 1488.6,481.9 1488.7,483.3 1487.5,484.7 1485.3,485.7ZM1494.5,492.9L1494.3,491.5 1495,490.2 1505.6,482.7 1506.9,482.7 1507.8,483.4 1510.5,488.5 1510.4,489.7 1509.9,490.6 1498.8,499.9 1497.9,500 1497.3,499.5ZM1486,494.4L1484.8,494 1483.8,492.8 1483.7,491.7 1484.5,490.1 1486.9,488.8 1488.3,488.8 1489.9,489.5 1490.5,490.4 1490.6,491.4 1489.8,493 1488,494.1ZM1489.3,502.7L1487.4,502.1 1486.7,501.3 1486.6,499.5 1487.3,498.3 1489.9,496.6 1491.4,496.4 1493.3,496.9 1494,497.8 1494.2,498.9 1493.4,500.7 1491.5,502.1ZM1500.2,502.6L1514.2,490.2 1515.2,489.7 1517.1,490.2 1523.8,496.3 1524.4,497.4 1523.9,499.3 1511.2,513 1508.5,511.6 1503.9,507.9 1500.6,504.4ZM1493.9,510L1492,510.1 1491.2,509.5 1491,508.1 1491.6,506.8 1492.6,505.6 1494.6,504.3 1496,503.8 1497.6,504.1 1498.3,505.3 1497.7,507.1 1496,508.9ZM1500.8,516.4L1499.5,516.7 1497.9,516.2 1497.2,514.7 1497.3,513.4 1497.9,512 1499.5,510.4 1502.1,509.8 1503.1,510.3 1503.7,511.2 1503.6,513.1 1502.6,515ZM1508,521.2L1506.9,521.8 1505.4,521.7 1504.6,520.4 1504.5,519.2 1504.9,517.8 1506.2,516 1507.3,515.2 1508.9,514.9 1510,515.8 1510.2,517.6 1509.4,519.6ZM1533.4,406L1534.9,404.1 1536.3,403.5 1541.9,403.2 1543.1,403.9 1543.7,405.1 1543.3,406.7 1541.4,408.4 1535.6,409.2 1534.4,409.1 1533.6,408.3 1533.1,407.2ZM1509.9,410.6L1510,405.1 1513,404.3 1514.6,404.8 1515.4,406.3 1514.9,408 1511.3,411 1510.4,411.1ZM1540.2,416.6L1540,414.8 1541.8,413.7 1541.9,411.8 1543.4,410.4 1581.2,405.5 1581.9,405.7 1582.3,406.2 1582.2,407 1581.6,407.4 1541.4,417.2ZM1512.1,420L1513.3,418.8 1513.7,416.2 1515.8,414.5 1535.8,411.9 1537.2,412.3 1538,413.6 1537.2,417.1 1535.7,418.2 1514.1,423.4 1513,423.2 1512.1,422.3 1511.8,421.1ZM1539,429.8L1539,428.4 1540,427.7 1564,419.2 1564.8,419.3 1565.3,419.8 1565.3,420.5 1564.8,421.1 1541.2,431.2 1540.2,431.2ZM1510.7,431.6L1510.6,428.1 1511.2,427.2 1512.3,426.5 1527.2,422.9 1528.6,423.2 1529.5,424.3 1529.2,428.2 1527.9,429.6 1513.6,434.5 1511.8,433.9ZM1510.9,439.5L1512.8,437.7 1520.3,435 1522,435.2 1523,436.6 1523,437.9 1522.1,439 1513.4,442.7 1512.1,442.6 1511.1,441.9 1510.7,440.7ZM1514.8,451L1515.6,449.3 1514.4,447.6 1514.2,446.5 1515.2,444.8 1531.3,437.9 1532.7,437.9 1533.8,438.7 1534.6,444 1534.3,445 1533.6,445.8 1518,454.7 1516.9,454.7 1515.8,454 1514.8,452.3ZM1509.5,467.8L1509,463.7 1509.9,462.5 1526.6,452.9 1528.3,452.7 1529.6,453.7 1531.2,459 1530.7,460.7 1515.2,472.2 1513.8,472.4 1512.5,471.7 1511.7,469.5ZM1518.7,476.5L1517.8,474.7 1518.7,472.9 1531.6,463.5 1533,463.2 1534.4,464.1 1535.7,466.7 1535.3,468.4 1522.5,479.6 1521,480.2 1519.6,479.6 1519,478.6ZM1520.3,488L1520.5,485.3 1521.1,484.3 1541.1,466.9 1542.2,466.7 1543.3,467 1547.6,471 1547.9,472.3 1547.5,473.4 1530.5,491.9 1529.2,492.2 1527.7,491.6 1525.5,491.5 1523.9,489.6 1522,489.5 1521,488.9ZM1535.8,493.8L1534.9,492.4 1535.3,490.7 1546.3,478.6 1548.2,478.3 1553.1,480.7 1553.6,481.9 1553.3,483.2 1543.5,496.4 1542.3,496.8 1540.6,496.5 1539.6,495.8 1538.6,494.3ZM1547.6,495.6L1560.5,477.7 1562.2,477 1565,477.8 1565.7,479.1 1565.5,480.4 1555.4,497 1554.4,497.6 1552.9,497.8 1551.6,498.6 1550.5,498.7 1548.1,497.6 1547.6,496.7ZM1514.2,514.1L1527,500.1 1528.7,500 1535.6,502.9 1536.6,503.9 1536.8,505 1536.5,506 1527.1,518.5 1524.5,517.9 1522.6,517.9 1517.9,516.5 1514.6,515.1ZM1530.9,518.2L1539.3,506.9 1540.5,506.6 1545.7,507.3 1547.2,508.3 1547.5,509.3 1547.2,510.4 1541.7,519.2 1538.4,519.7 1532.9,519.4 1531.4,519.2ZM1545.9,517.8L1549.5,511.7 1550.6,510.8 1561,509.8 1562.2,510.2 1563,511.2 1563.1,512.7 1561.3,516 1549.9,518.7 1546.7,518.8 1546.2,518.5ZM1516.2,524.8L1515.2,525.6 1513.8,525.7 1512.7,524.7 1512.5,523.5 1512.8,521.4 1513.5,520.1 1514.4,519.1 1515.9,518.6 1517.1,519.2 1517.6,520.9 1517.3,523ZM1560,525.1L1559.2,526.8 1558.4,527.3 1557.3,527.2 1555.9,526.1 1554.8,523.5 1555,521.4 1555.7,520.4 1556.5,519.9 1557.6,519.9 1559,521 1560,523ZM1525.3,527.2L1524.3,528.3 1522.6,528.7 1521.5,528.2 1520.8,527.1 1520.4,524.8 1520.7,523.1 1521.9,521.1 1523,520.4 1524.7,520.4 1525.9,521.8 1526.2,525ZM1551.7,527.2L1551.1,528.4 1550.1,529.2 1549,529.4 1547.4,528.4 1546.6,527.1 1546.1,524.7 1546.6,522.5 1547.4,521.4 1549,521 1550.6,521.9 1551.8,524.8ZM1533.7,528L1532,529.5 1530.6,529.1 1529.9,528.2 1529.3,526.2 1529.5,524.7 1530.3,522.8 1531.2,522 1532.7,521.9 1533.9,523.1 1534.3,525.9ZM1542.8,528.2L1541.6,529.8 1540.6,530.2 1539.6,529.9 1538.3,528.4 1537.8,526 1537.9,524.4 1538.4,523 1539.8,521.8 1541.3,522 1542.6,523.5 1543.1,525.8ZM1546.6,407L1547.4,405.2 1552.5,404.2 1553.9,402.6 1560.4,402.2 1577.5,402.1 1578.2,402.4 1578.5,403 1578.3,403.8 1577.7,404.1 1547.7,408.1 1546.9,407.8ZM1542.7,423.6L1542.7,421.5 1544,420.5 1544,419 1544.7,418.3 1579.1,409.9 1579.9,410 1580.3,410.5 1580.3,411.3 1579.7,411.8 1544,424.3 1543.2,424.3ZM1541.7,433.7L1542.5,432.6 1586,413.9 1586.8,413.9 1587.4,414.4 1587.4,415.1 1586.9,415.7 1545.5,439.5 1544.2,439.1 1543.9,438.1 1543,437.1 1543.2,435.4 1541.9,434.6ZM1542.4,445.7L1542.3,443.8 1542.8,443.1 1586.7,417.9 1587.5,417.8 1588.1,418.2 1588.2,419 1587.8,419.5 1545.4,450.6 1544.4,450.6 1543.2,449.6 1543.2,448.8 1544,447.2ZM1547.3,451.6L1580,427.5 1580.7,427.3 1581.4,427.7 1581.6,428.4 1581.2,429.1 1551.3,455.1 1550.3,455.2 1549.4,453.9 1547.9,453.4 1547.2,452.4ZM1552,458.4L1552.7,456.3 1592.1,422 1592.8,421.8 1593.5,422.1 1593.7,422.8 1593.5,423.4 1558.1,462.4 1557.3,462.6 1556,462 1554.6,462.6 1553.8,462.5 1553.4,461.8 1553.6,460.1 1552.3,459.2ZM1559.3,465.3L1559.4,463.6 1592.2,427.5 1592.9,427.2 1593.6,427.5 1593.9,428.1 1593.7,428.8 1566.9,465.3 1566.2,465.6 1565,465.4 1563.8,465.9 1562.2,465 1560.4,465.9ZM1573.1,472.4L1598.8,429.9 1599.4,429.5 1600.2,429.6 1600.7,430.3 1600.5,431.7 1581.9,472.5 1580.9,473 1579.4,472.1 1577.9,472.8 1576.2,471.8 1574.1,473.4 1573.4,473.2ZM1564.6,471.7L1590.8,435.8 1591.4,435.5 1592.2,435.6 1592.6,436.2 1592.4,437 1570,473.7 1569.4,474.1 1568.4,473.9 1567,472.5 1565.3,472.8ZM1586.2,467.7L1597.9,441.9 1598.4,441.3 1599.2,441.4 1599.8,442.1 1599.6,444.2 1591.6,467.2 1589.1,468.6 1586.8,468.6ZM1596,478.9L1597.3,480.3 1597.4,481.3 1596.9,482.1 1595.1,482.8 1592.6,482.7 1591,482.1 1589.8,481.3 1588.9,479.8 1589.5,478.5 1591.3,477.8 1593.7,477.9ZM1576.5,490.1L1582,477.7 1582.8,477 1584.5,476.5 1586.1,476.9 1586.8,477.9 1586.5,480.5 1583.3,489.4 1581.2,491.7 1580,492.2 1577.6,492 1576.8,491.2ZM1560.6,493.7L1570.7,477 1571.9,476.4 1576.3,476 1577.9,476.6 1578.6,477.7 1578.5,479 1570.3,496.4 1569.1,497 1567,496.6 1564.5,497.1 1561.4,495.7 1560.7,494.8ZM1593.7,487.1L1594.8,489 1594.3,490.4 1593.3,491 1592,491.3 1589.8,490.9 1588.6,490.2 1587.5,488.7 1587.7,487.3 1589,486.3 1591.7,486.2ZM1591.4,495.4L1592.2,497 1592.2,498 1591.2,499.2 1590,499.6 1587.3,499.2 1586.2,498.4 1585.4,496.9 1585.4,495.8 1586,494.9 1587.6,494.2 1589.6,494.4ZM1587.8,503.7L1588,505.9 1587.4,506.8 1585.9,507.5 1584.1,507.2 1583,506.5 1581.9,504.4 1582.3,502.8 1584.1,501.7 1585.9,502ZM1566.2,512.4L1570.6,503 1575.8,501.3 1576.9,501.4 1577.8,502 1578.2,502.7 1578,503.4 1572.1,509.9 1567.7,513.2 1566.7,513.2ZM1582.6,511.4L1583,512.6 1582.7,514.1 1581.8,514.5 1580,514.2 1578,513 1577,511.8 1576.2,509.9 1576.3,508.9 1577.3,508 1579.2,508.3 1581.1,509.5ZM1576,517.3L1575.9,519 1575.3,519.8 1574.4,520.2 1572.7,519.8 1571.2,518.6 1570.6,517.4 1570.6,515.1 1571.2,514.3 1572.1,514 1573.8,514.3 1575.3,515.6ZM1568.5,522.3L1568.2,523.6 1567.6,524.5 1566.1,524.8 1565,524.3 1563.6,522.7 1563,521.3 1562.9,519.9 1563.4,518.1 1564.7,517.3 1566.4,517.8 1567.8,519.4Z" fill="url(#b3lh)" fill-rule="evenodd" stroke="#b8b8c0" stroke-width="0.5"/>
<path d="M1428.4,243.7L1426.1,248 1424.4,253.2 1423.6,258.7 1423.6,264.8 1424.1,270.8 1425.1,276.2 1430,291.9 1433.7,300.7 1441.7,316.8 1459.2,356.5 1466.3,370.8 1469.8,376.3 1473.6,380.8 1477.6,384.6 1483.3,389 1489.5,392.5 1494.4,394.6 1506.8,397.5 1510.6,398.8 1513.3,399.1 1526.9,399.4 1564.6,399.1 1586,398.3 1595.4,397.2 1600.6,396.2 1605.1,394.8 1608.9,392.9 1613.2,389.2 1622.6,377.1 1625.2,372.4 1625.6,371.1 1625.4,368.7 1621.2,362.3 1614.1,348.2 1598.9,323.4 1595.3,318.4 1587.2,309 1583.7,305.5 1579.3,302.1 1576.1,300.1 1571.7,298.2 1567.3,296.9 1562.3,296.4 1558,294.5 1508.6,260.2 1493.9,252 1478.1,244.9 1469.4,241.9 1460.3,239.4 1454,238.2 1448.3,237.7 1441.5,238 1435.5,239.2 1431.5,240.8ZM1447.7,241.6L1448.6,240.6 1450.3,240 1451.4,240.4 1452.3,241.3 1452.8,242.6 1452.8,245 1452.3,246.4 1450.9,247.8 1449.2,247.9 1447.8,246.7 1447.1,243.8ZM1456.6,242.7L1457.6,241.8 1458.8,241.5 1459.9,241.7 1461.1,243.1 1461.4,244.5 1461.1,246.7 1459.9,248.5 1458.8,249.1 1457.1,249 1455.9,247.6 1455.7,244.7ZM1431,247.4L1430.8,245.2 1431.9,244.1 1433.1,243.9 1434.3,244.1 1436,245.3 1437,246.9 1437,248.1 1436.2,249.4 1434.6,249.9 1432.8,249.4ZM1465.2,245L1466.8,244.1 1467.8,244.1 1469.1,245.1 1469.5,246.3 1469.1,249 1467.9,250.6 1466.8,251.1 1465.3,250.8 1464.1,248.9 1464.2,246.8ZM1428,256.5L1426.9,255 1426.9,253.9 1427.8,252.6 1428.9,252.1 1430.3,252 1432.3,252.5 1434,254.4 1433.9,256 1432,257.3 1429.9,257.3ZM1438.5,256.9L1439,254.4 1439.7,253.2 1441.8,252.4 1443.1,252.6 1462.1,266.9 1462.8,268.1 1462.5,269.5 1460.5,271.4 1458.6,271.4 1439.4,258.3ZM1427.6,265.3L1426.5,264.6 1425.8,263.4 1426.4,262 1427.5,261.4 1428.9,261 1431.2,261 1432.5,261.5 1433.6,262.7 1433.4,264 1432,265.1 1429.8,265.6ZM1429.8,274.6L1428.6,274.2 1427.5,272.9 1427.6,270.7 1429.4,269.2 1431.8,269.1 1433.5,270.7 1433.4,272.9 1431.6,274.4ZM1440.3,264.5L1456.4,275.5 1456.5,276.5 1455.1,279.8 1449.2,284.5 1444.8,285.3 1444.1,284.9 1442.9,282.9 1440.1,274 1439.1,268.9 1438.9,265.4 1439.4,264.7ZM1431.4,282.7L1429.8,282 1429.3,281.2 1429.4,279.7 1430.1,278.8 1431.9,277.8 1433.2,277.6 1435.5,278.3 1436.1,279.6 1435.1,281.5 1433.4,282.5ZM1460.2,280.1L1460.3,279 1461.7,275.5 1464.1,273.3 1465.7,272.9 1479.4,282.1 1480.1,283.1 1480.2,284.3 1479.7,285.2 1476.8,288.1 1475,288.6 1461.3,281.5ZM1433.8,291.2L1431.9,290.6 1431.2,289.8 1431.4,288.2 1432.3,287.1 1434.4,285.8 1436,285.5 1438.2,285.7 1439.2,286.3 1439.4,287.8 1438.3,289.5 1436.2,290.8ZM1454.6,286.5L1456.9,284.6 1458.4,284.5 1472.1,291.6 1472.8,292.6 1472.8,293.8 1468.6,300.2 1467.7,300.7 1466.6,300.6 1454.8,288.5 1454.4,287.5ZM1446.8,289.7L1449,289.2 1450.5,289.8 1459.6,299.4 1460,300.8 1459.4,302.1 1457.7,302.7 1451,301.2 1450,300.7 1446.8,294.9 1445.9,292.1 1445.9,290.8ZM1437.3,299.2L1435.4,298.8 1434.7,298 1434.6,297 1435.5,295.3 1437.4,293.9 1439,293.4 1440.4,293.4 1442,294.1 1442.4,295.6 1441.5,297.3 1439.6,298.7ZM1441.3,306.8L1440,306.7 1438.8,305.8 1438.7,304.9 1439.4,303.2 1441.2,301.9 1442.6,301.3 1444,301.2 1445.5,301.8 1446,303.1 1445.2,304.7 1443.4,306.1ZM1455.6,307.1L1460.6,308.1 1461.4,308.8 1461.5,309.6 1459.8,314.8 1459.1,315.5 1458.3,315.6 1457.6,315.1 1454.7,308.8 1454.8,307.7ZM1445.9,314.7L1444.5,314.7 1442.9,313.8 1442.4,312.8 1442.8,311 1444.3,309.4 1445.7,308.8 1448.5,308.9 1449.4,309.6 1449.9,310.6 1449.5,312.4 1448,313.9ZM1448.6,322.5L1447.4,322.2 1446.1,321.1 1446,320 1446.8,318.3 1449.2,316.7 1450.7,316.6 1452.5,317.1 1453.3,318.5 1453.2,319.7 1452.5,320.8 1450.8,322.1ZM1451.9,330.1L1450.1,329.7 1449.5,329 1449.4,328.1 1450.3,326.5 1451.5,325.6 1453.6,324.8 1455.6,324.9 1456.5,325.4 1456.8,326.7 1455.9,328.3 1454.1,329.6ZM1455.4,338.2L1454.1,338 1453.1,337.4 1452.7,335.9 1453.2,334.7 1454.8,333.2 1456.3,332.5 1458.5,332.4 1459.6,332.8 1460.5,334.1 1460,335.8 1458.4,337.4ZM1464.6,333.2L1464.6,332.1 1465.1,331.2 1465.9,330.6 1467.1,330.5 1475.7,334.8 1476.6,335.5 1476.9,337.3 1474.4,345.7 1473.4,347 1471.6,347.3 1470.2,346.1ZM1459,345.7L1457.1,345 1456.7,343.6 1457.1,342.6 1458.5,341.3 1459.8,340.8 1461.1,340.6 1462.8,341 1463.5,342.1 1463.1,343.6 1461.6,344.9ZM1462.2,354L1460.9,353.8 1459.6,352.7 1459.5,351.7 1460.5,350 1461.7,349 1464,348.2 1466.1,348.3 1467.1,348.9 1467.5,350.4 1466.5,352.1 1464.5,353.4ZM1466.2,362L1464.8,361.8 1463.8,361.1 1463.3,359.5 1463.7,358.3 1465.2,356.6 1466.6,355.9 1468.8,355.7 1470,356.2 1470.9,357.6 1470.6,359.4 1469.1,361ZM1473.2,248.1L1474.7,246.9 1475.8,246.7 1476.7,247 1477.6,248.4 1477.7,249.8 1477,251.9 1476.2,253.1 1474.6,254 1473.2,253.7 1472.3,252.2 1472.3,250.2ZM1477.8,259.8L1479.5,258.9 1480.6,259.1 1491.9,268.8 1492.3,270.2 1490.9,272.1 1490,272.5 1488.9,272.1 1477.8,261.5 1477.5,260.6ZM1499.3,268.7L1501.7,265 1503.2,264.7 1517.9,274.7 1518.4,275.4 1518.3,276.3 1517.1,277.7 1515.9,277.7 1500,270.1 1499.4,269.5ZM1468.4,268.1L1471.4,264.3 1472.8,264.2 1485.2,275.9 1485.4,277.3 1483.9,278.8 1482.7,278.9 1468.9,269.5ZM1493.8,276.7L1493.9,275.4 1494.9,274.1 1495.8,273.6 1496.9,273.5 1513.4,281.4 1514.2,282.2 1514.5,283.4 1513.2,287.5 1509.9,290.8 1508.8,291.2 1507.6,290.9 1494.4,277.8ZM1479,292L1482,288.8 1483,288.5 1483.9,288.8 1495.7,302.9 1496,303.9 1495.5,305 1494.4,305.7 1493.1,305.3 1479.4,293.8 1478.9,292.9ZM1502.1,302.7L1507.8,296.7 1508.7,296.3 1509.7,296.4 1510.7,297.1 1517.4,307.1 1517.7,308.9 1516.7,310 1515.3,310.1 1503.2,305.4 1502.1,304.2ZM1473.1,301.6L1475.3,298.2 1476.2,297.8 1477.2,297.9 1490.9,309.4 1491.4,310.3 1491.3,311.4 1489.7,312.9 1488.1,312.8 1473.8,303.3ZM1465.1,314L1467.1,307.1 1468.2,305.8 1469.6,305.6 1484.4,315.2 1485.1,316.1 1485.2,317.3 1484.3,318.7 1482.6,319 1466.6,315.6 1465.6,315ZM1496.7,311.4L1496.8,310 1497.8,308.6 1498.7,308 1500,308 1517.2,314.8 1518.3,315.9 1518.4,317.5 1515.9,322.2 1514.9,322.9 1513.6,322.9 1497.6,312.7ZM1490.4,320.4L1491.5,317.4 1493.3,315.7 1494.9,315.6 1510.2,325.4 1510.9,326.4 1510.8,327.5 1508.8,330.7 1507.9,331.2 1507,331.1 1491.3,321.7ZM1460.8,321.4L1462.3,319.3 1463.8,318.9 1482.5,322.8 1483.6,323.7 1483.9,325 1482,329.7 1479.9,331.6 1478.6,331.9 1461.7,323.6 1460.8,322.6ZM1487.1,329.6L1488.2,326.7 1488.9,326.2 1489.8,326.3 1505.4,335.6 1506,336.4 1505.9,337.4 1503.6,341.2 1502.8,341.6 1502,341.5 1487.7,330.7ZM1475.9,351.3L1476.8,350.1 1477.7,349.7 1498,351.9 1499,353 1498.5,356.5 1497,358.8 1495.7,359.1 1476.7,352.8 1476,352.2ZM1503.2,356L1503.8,351.5 1504.7,350.5 1506.1,350.3 1521.7,355.8 1522.7,357.1 1522.6,359.6 1520,363.9 1519.1,364.5 1518.1,364.6 1504.3,357.5ZM1498.1,368.9L1499.2,363.2 1500.7,361.2 1502.3,360.6 1516.7,367.9 1517.5,368.8 1517.7,370 1516.9,371.5 1515.3,372.1 1499.9,370.6 1498.7,370ZM1470.2,369.7L1468.9,369.5 1467.5,368.4 1467.3,366.7 1467.9,365.4 1470.4,363.6 1471.8,363.3 1473.8,363.7 1474.8,365.1 1474.8,366.3 1474.2,367.5 1472.4,369ZM1481.6,367.7L1477.9,361.1 1478.1,360 1478.8,359.2 1479.9,359 1494.2,363.9 1494.7,365.3 1493.6,370.9 1491.3,374.8 1490.3,375.3 1489.2,375.1 1485.1,371.7ZM1475.5,376.9L1474.3,376.9 1472.8,376 1472.3,375 1472.4,373.8 1473.9,371.5 1475.8,370.6 1477,370.6 1478.1,371 1478.8,371.9 1478.9,373.7 1477.9,375.4ZM1495.2,377.6L1496.5,375.2 1497.6,374.7 1515.4,376.3 1516.3,376.8 1516.6,377.8 1515.7,383.1 1515.2,383.7 1514.3,384 1506.7,381.7 1503.9,381.5 1499.1,380.3 1495.8,378.9ZM1482.8,382.7L1481.5,383.3 1479.7,383.1 1478.8,382.4 1478.4,381.3 1478.6,379.3 1479.4,378 1481.7,376.6 1483,376.5 1484,377 1484.8,378.6 1484.6,380.5ZM1489,388L1487.9,388.7 1486.4,388.6 1485.6,387.3 1485.7,386 1486.1,384.5 1487.5,382.5 1489.2,381.3 1490.3,381.2 1491.3,382.1 1491.4,384 1490.6,386.2ZM1497.7,391L1496.3,391.9 1495.3,391.9 1493.9,390.4 1493.8,388.6 1494.2,387.3 1494.9,386.3 1496.3,385.4 1497.7,385.6 1498.7,386.9 1498.8,388.7ZM1506.3,393.5L1505.3,394.5 1503.8,394.9 1502.9,394.4 1502.1,392.6 1502,391 1502.6,388.6 1503.5,387.3 1505,386.4 1506.4,387 1507.2,388.8 1507.2,391.2ZM1515.1,394.5L1514.1,396.2 1513.1,396.7 1511.7,396.4 1511,395.5 1510.4,393.4 1510.6,391.9 1511.4,389.9 1512.3,389.1 1513.8,389 1514.9,390.2 1515.5,392.3ZM1517.9,287L1519.3,282.4 1522.7,279.1 1524.4,279 1528,281.8 1531.2,292.2 1531.1,293.3 1530.2,294.2 1528.9,294.1 1518.7,288.2ZM1537.6,287.9L1541.9,290.7 1542.6,292.1 1542,293.8 1538.5,296 1537.4,295.9 1536.5,295 1535,290.1 1535.7,288.3ZM1542.1,299.9L1542.2,298.6 1542.8,297.7 1546.3,295.1 1547.9,294.9 1555.2,299.5 1561,302.1 1561.9,303.1 1562,304.4 1558.1,311.3 1556.6,312.3 1555.3,312.4 1554.2,311.8 1542.8,301ZM1562.1,311.8L1565.1,306.5 1566.4,305.9 1567.8,306.2 1580.3,322.1 1580.7,323.3 1580.3,324.5 1578.6,326.4 1577.2,327.2 1576.1,327.4 1575.1,327 1562.6,313.6ZM1583.3,314.8L1586.2,318 1586.2,319 1585.4,319.7 1584.1,319.5 1581.7,316.4 1582,315.1ZM1525.9,313.2L1530.6,309.7 1532.3,309.8 1543.4,322.9 1543.7,323.8 1543.4,324.8 1542.3,325.5 1541.1,325.2 1526.4,315.3 1525.8,314.4ZM1548.7,328.1L1548.7,327 1549.5,324.7 1556.2,316.5 1558.6,315.5 1560,316.2 1571.9,329 1572.5,330.7 1570.1,334.6 1568.2,335.3 1559.4,331.7 1550.1,329.7 1549.2,329.1ZM1520.3,323.3L1522.1,319.7 1522.8,319.3 1523.8,319.4 1539.2,329.7 1539.7,330.5 1539.7,331.4 1539,332.1 1534.5,334.3 1533.3,334.4 1520.8,324.5ZM1511.2,335.2L1515.3,328.3 1516.2,327.8 1517.2,327.7 1529.4,337.2 1530,339 1528.7,341.1 1527.1,341.6 1512.4,337.2 1511.4,336.4ZM1582.7,328.7L1582.9,327 1585,324.8 1589.5,322.6 1591.5,323 1594.1,326.5 1603.4,341.6 1603.6,342.9 1603.2,344.1 1599.7,346.9 1598.6,347.1 1597.4,346.6ZM1590.4,348.8L1574.2,338 1574,336.4 1577.1,332.1 1578.4,331.5 1579.6,331.9 1591.7,346.4 1592.1,347.3 1591.9,348.1 1591.2,348.7ZM1531.2,345.2L1534.7,339.2 1537.2,338 1538.7,338.2 1539.7,339.6 1539.7,343.5 1541.3,349.9 1541,351.2 1540.1,352 1538.8,352.1 1532,349 1531.1,347.7ZM1507.3,345L1509,341.9 1510.4,341.4 1525.8,345.9 1526.6,346.9 1526.5,348.6 1524.5,351.4 1523.2,351.8 1508.2,346.5 1507.5,345.9ZM1599.9,353.2L1599.9,352.1 1600.3,351.2 1604.3,347.8 1605.7,347.4 1607,347.8 1610,352.8 1614.9,362.7 1615.1,363.8 1614.6,364.9 1613.2,365.7 1611.7,365.3 1607.7,360 1604.1,356.4 1600.6,354.2ZM1562.5,342.1L1563.9,341.6 1564.8,340.8 1565.5,340.8 1572.4,346.2 1573.2,346.3 1574.3,345.4 1575.1,345.4 1580,350 1581.5,350.5 1601.5,374 1601.5,375.3 1600.8,375.7 1600.1,375.4 1562.6,343.6 1562.3,342.9ZM1527.4,356.2L1529.2,353.7 1530.4,353.4 1544.4,359.7 1545.1,360.3 1546.5,363.2 1547,364.4 1546.9,365.2 1546.2,365.8 1545.3,365.9 1528,359.2 1527.2,358.2ZM1552.4,344.5L1555.1,345.9 1556.2,345.3 1556.1,344.3 1553.1,340.8 1553.3,339.8 1554.4,339.6 1602.2,379.9 1602.6,380.6 1602.4,381.2 1601.9,381.6 1601.1,381.6 1555,356.1 1554.2,354.1 1551.4,351.7 1551.5,350.9 1552.1,350.5 1554.8,351.2 1555.8,350.4 1555.5,349.5 1551.5,346.1 1551.5,345ZM1589,354.8L1590.4,354.6 1594.9,359.6 1597.1,360.1 1603.6,370.3 1603.4,371.6 1602.6,371.8 1602,371.5 1589,356.1 1588.7,355.5ZM1603.8,365.1L1604.5,364.9 1605.2,365.3 1605.4,366.1 1605,366.7 1604.2,366.9 1603.6,366.5 1603.4,365.7ZM1521.7,368.3L1524.4,364 1526.2,363.4 1543.5,370.1 1544.5,371 1544.7,372.3 1544,373.5 1542.6,374 1523.4,372.5 1522.4,372.1 1521.8,371.3ZM1562.7,364.4L1563.6,363.6 1564.4,363.6 1589.6,377.5 1590.1,378.1 1590,378.8 1589.4,379.3 1588.7,379.3 1567.6,370.9 1566.7,369.8 1563.5,367.9 1563.4,366.4 1562.7,365.2ZM1563.7,374.8L1564.4,372.5 1565.4,372.2 1590.6,382.2 1591.1,382.7 1591.2,383.4 1590.7,384 1590,384.1 1566.3,378.2 1565.3,376.6 1563.9,375.7ZM1520,384.2L1521,377.7 1521.6,376.7 1522.7,376.2 1541.4,377.6 1542.5,378.2 1543.2,379.3 1542.7,382.2 1541.2,383.4 1522.2,385.9 1520.8,385.4ZM1570.8,384.6L1571,382.3 1572.1,381.7 1594.4,387.2 1595,387.7 1595.1,388.3 1594.7,389 1594.1,389.2 1574.6,387.7 1573.4,386.2 1571.1,385.4ZM1524.5,390.2L1541,387.9 1542,388.7 1542.5,391.5 1542.2,392.3 1541.3,392.7 1525.2,392.7 1524.4,392.4 1523.9,391.6Z" fill="url(#b3lf)" fill-rule="evenodd" stroke="#4e9a90" stroke-width="0.5"/>
<path d="M1733.5,403.2L1686.4,400.6 1652,399.3 1642.4,399.5 1638.6,400.1 1635.8,401 1634.2,402.3 1633.6,404 1633.7,406 1637.1,415.8 1637.6,418.6 1639.4,445 1641,485.1 1642.3,500.4 1643.8,511.3 1646.9,523.7 1649.1,529.5 1650.8,532.8 1653.8,537.2 1656.1,539.6 1658.7,541.8 1661.8,543.6 1667,545.6 1674.8,547.4 1681.4,548 1688.2,548 1694.8,547.6 1701.3,546.6 1712.8,544.2 1722.7,541.6 1729.5,539.1 1735.7,535.9 1741.4,532.4 1748.2,527.5 1755.5,520.7 1759.2,515.8 1762.4,510.4 1765.2,504.5 1768,495.7 1770,486.8 1770.9,480.2 1771.4,469.2 1771.2,460.4 1770.1,451.6 1768.2,442.7 1766.1,436.2 1763.2,429.9 1758.5,422.1 1754.8,417.2 1750.7,413.2 1742.5,406.2 1738.3,404.2ZM1659.4,405.2L1700.6,411.6 1701.3,412.3 1701,414.1 1703.4,415.4 1703.2,417.5 1704.9,418.7 1705.1,419.6 1704.6,420.2 1703.8,420.3 1659.4,407.2 1658.7,406.2ZM1668,411.7L1701,421.3 1702,422 1702,423.5 1703.1,424.6 1703.2,425.6 1702.3,427 1701.3,427.2 1667.7,413.6 1667.2,412.5ZM1655.6,412.9L1705.5,437.7 1706.1,439.2 1707.6,440.6 1707.5,441.6 1706.4,442.2 1706.1,443 1708.4,445.6 1708.4,446.7 1706.6,448 1705.9,448.9 1704.8,448.9 1655,414.7 1654.7,413.6ZM1655.8,420.4L1698.1,454.1 1699.1,456.8 1698.9,457.5 1697.6,458.5 1698.3,460.5 1698,461.4 1697.2,461.7 1695.8,461.3 1694.5,462 1693.7,461.7 1654.8,422 1654.7,420.9ZM1651.3,421.1L1698.5,469.2 1698.7,470.2 1697.6,471.4 1698.3,473.6 1698,474.5 1697.1,474.7 1694.4,474 1693.8,474.6 1693.7,475.9 1692.9,476.3 1691.1,475.2 1689.4,474.9 1650.2,422.7 1650.2,421.5ZM1655.1,432.5L1685.4,472.6 1685.6,473.3 1684.6,476 1682,477.1 1679.3,475.3 1653.9,433.9 1654,432.7ZM1652.3,435L1675.6,472.8 1675.7,473.5 1675.3,474.1 1673,474.8 1671.7,474.1 1670.3,474.5 1669.5,474 1650.9,436.3 1651.1,435.1ZM1646.2,431.2L1669.6,478.4 1669.4,479.5 1668.1,479.9 1667.3,480.5 1665.4,479.9 1663.9,481.5 1662.9,481.5 1662.4,480.9 1644.7,432.4 1645.1,431.2ZM1644.7,437.9L1660.8,481.9 1660.1,483.3 1658.3,483.3 1657.1,484.4 1656.1,484.2 1654.9,482.4 1653.6,482.2 1653,481.5 1643.2,441.6 1643.1,438.3 1643.8,437.7ZM1645.6,459.4L1649.3,473.8 1649.1,474.6 1648.5,475 1646.6,474.8 1645.6,472.1 1644.2,470.8 1643.8,460 1644.5,459.1ZM1647.8,482.7L1650.7,484.1 1651.6,485.2 1655.9,502.2 1655.8,502.9 1655.2,503.4 1654.5,503.4 1651.9,501.7 1648.4,500.3 1647.4,498.8 1645.8,492.2 1645.3,484.9 1646.1,483.3ZM1678.7,487.9L1682.5,486.8 1684.3,487.7 1697,508.3 1697.2,509.8 1696.4,511.1 1693.4,512.2 1691.7,511.8 1689.6,512.1 1688.3,511.3 1678,490.4 1677.9,489ZM1658.2,491.9L1663.1,492.2 1664.5,493.3 1669.6,507.3 1669.5,508.7 1668.6,509.7 1667.3,510 1665.6,509.6 1663.6,510 1661,509 1660.1,508.1 1656.6,494.3 1657,492.7ZM1669.3,493.4L1674.9,492.6 1676.6,493.5 1685.3,511.2 1685.4,512.6 1684.6,513.8 1682.2,514.3 1680.9,515.5 1679.8,515.9 1678.7,515.6 1677.4,514.7 1675.7,514.5 1674.8,513.8 1668.3,496 1668.3,494.5ZM1647.7,511.2L1646.5,510.7 1645.7,509.7 1645.6,508.1 1646.3,507 1647.6,506.2 1649.9,505.6 1652.1,506 1653.1,506.8 1653.7,508.3 1652.8,510 1650.1,511.3ZM1649.9,519.4L1648.7,519 1647.7,517.8 1647.8,516.8 1648.4,515.9 1650.1,514.7 1651.5,514.4 1653.6,514.5 1654.5,515.1 1655.1,516.4 1654.4,517.9 1652.7,519.1ZM1653.2,527.9L1651.6,527.2 1651,526.3 1651.1,524.2 1652.3,522.9 1653.5,522.4 1655.8,522.7 1656.9,523.9 1656.8,526 1655.6,527.3ZM1665.9,522.8L1674.3,523.5 1675.4,524.1 1678.4,531.4 1678.4,532.5 1677.9,533.5 1674.7,534.7 1669.5,533.3 1665.9,531.5 1664.2,524.9 1664.6,523.6ZM1657.9,535.7L1656.6,535.8 1655.5,535.3 1654.9,534.5 1654.8,532.7 1655.8,530.9 1657,530 1658.3,529.5 1660.2,529.6 1661.3,530.8 1661.4,532.5 1660.4,534.3ZM1665.9,540.9L1664.8,541.5 1663.6,541.5 1662.3,540.7 1661.8,539.6 1661.8,537.6 1662.4,536.3 1664.5,534.6 1666.2,534.7 1667,535.4 1667.5,536.5 1667.4,538.6ZM1674.7,543.1L1672.6,544.2 1671.1,543.7 1670.3,542.8 1670,540.1 1670.9,538.3 1671.9,537.5 1673.5,537.2 1674.5,537.7 1675.3,538.7 1675.7,540.6ZM1683.4,544.1L1682.2,545.6 1681.2,545.8 1680.2,545.5 1679.1,543.9 1678.8,542.5 1679,540.1 1680,538.3 1681,537.8 1682.4,538.1 1683.5,539.6 1683.9,541.9ZM1678,404.3L1694.1,405 1697.7,406.7 1698.1,408.3 1697.6,409 1696.9,409.1 1678.2,406.2 1677.4,405.4ZM1708.9,406.4L1712.5,406.4 1716.5,407.4 1717.7,408.6 1717.7,410.3 1716.9,411.2 1715.7,411.6 1708.8,410.5 1707.9,409.6 1707.5,408.4 1707.9,407.2ZM1711.7,413.8L1726.3,415.9 1728.3,416.6 1729.2,417.7 1729.5,420.1 1732.7,421.9 1733.4,422.7 1733.8,425.7 1733.5,426.9 1732.5,427.8 1731.1,427.9 1713.5,422.6 1712.7,421.8 1710.1,416.4 1710.4,414.8ZM1676.8,419.3L1705.1,430.7 1705.6,431.9 1704.9,433.1 1704.8,434.3 1704.3,434.8 1703.5,434.7 1676.5,421.2 1675.9,420.1ZM1715.3,426.2L1732.7,431.2 1733.6,432.4 1733.8,434.4 1736.1,436.6 1736.2,437.7 1735.7,438.8 1734.6,439.7 1733.2,439.7 1714.8,432.2 1713.9,431.1 1713.4,428.2 1714,426.8ZM1716.5,440.4L1716.2,438.1 1716.8,437.2 1717.9,436.7 1719.1,436.8 1738.6,444.8 1739.6,446 1739.6,447.7 1738.3,450.2 1737.4,450.7 1736.2,450.6 1717.3,441.1ZM1673.4,429.7L1707.9,453.3 1709.3,455.3 1709.1,456.3 1707.9,457.7 1706.4,458.1 1705.6,457.9 1672.7,431.5 1672.4,430.3ZM1715.7,443.5L1735.8,453.5 1736.3,454.6 1736.7,458.3 1736.2,459.4 1734.6,460.7 1734.6,461.6 1735.3,462.9 1735.4,464 1735,465 1733.5,466.3 1732.4,466.8 1731.1,466.5 1712.9,453.9 1712.5,452.4 1713.4,445.2 1714.3,443.9ZM1714.1,463.3L1714.5,461.5 1715.2,460.6 1716.5,460.1 1717.8,460.5 1731.8,470.2 1733.3,473 1732.7,475.2 1732,475.9 1730.7,476.4 1729,476.1 1714.9,464.8ZM1704,470.2L1707.6,464.7 1708.9,464.1 1710.3,464.5 1726.7,477.7 1727,479.5 1725.6,481.8 1726.3,483.9 1725.9,485.3 1725,486 1723.5,486.5 1721.8,488 1720.8,488.1 1719.8,487.7 1704.5,472.2 1704,471.2ZM1694.9,479.2L1701.1,474.6 1702.2,474.4 1703.3,474.7 1725.4,497.2 1725.9,498.5 1725.6,499.8 1724,500.8 1721.1,500.2 1719.1,502.9 1716.5,503.1 1714.4,505 1712.5,504.7 1695,481.6 1694.6,480.4ZM1687.5,484.6L1691.3,483 1692.3,483 1693.2,483.6 1704.3,498.4 1704.7,499.8 1704,501.1 1701.3,502.7 1699.7,502.5 1697.9,503 1696.4,502.3 1687.1,487.2 1686.8,485.8ZM1718.6,510.5L1728.7,503.1 1730.4,502.8 1731.5,503.4 1742.5,514.6 1742.8,515.5 1741.7,516.7 1736.4,520.7 1731.2,524.1 1728.3,525.5 1727.7,525.1 1718.5,512.9 1718.2,511.7ZM1707.7,517.5L1714.6,514.5 1716.4,514.7 1723.8,524.3 1724.2,525.4 1723.9,526.6 1722.8,527.5 1720.9,527.8 1719.3,529.1 1716.9,528.8 1714.9,529.8 1713.4,529.6 1712.6,528.8 1707.2,520 1707.1,518.6ZM1695.3,521.4L1702.3,519.7 1703.8,520 1709,528 1709.3,529.1 1708.9,530.1 1706.2,532.7 1701.1,533.9 1699.6,533.9 1694.5,523.9 1694.5,522.6ZM1680.3,523.5L1689.2,522.3 1690.7,522.7 1691.4,523.6 1696.3,533.5 1696.2,534.5 1695.5,534.9 1689.7,535.4 1682.7,535.3 1679.2,526 1679.3,524.6ZM1734.3,531.8L1733.4,533.9 1731.9,534.5 1730.7,534.3 1728.9,532.6 1728.4,531.4 1728.6,529.6 1729.7,528.3 1732,528.2 1733.8,529.9ZM1726.3,536.3L1725.8,538.1 1725,538.7 1724,538.8 1722.4,537.7 1721.2,535.7 1720.8,534.1 1720.8,532.7 1721.6,531.1 1723.1,530.9 1724.7,531.9 1725.9,533.9ZM1718.1,538.9L1717.2,540.7 1716.3,541.3 1715.2,541.2 1714.1,540.6 1713.2,539.4 1712.5,537.1 1712.7,534.9 1713.3,533.8 1714.8,533.2 1716.5,533.9 1718,536.6ZM1709.4,541L1709,542.3 1707.8,543.2 1706.8,543.1 1705.4,541.9 1704.7,540.5 1704.3,538.1 1704.8,536.1 1705.6,535.3 1707,535.2 1708.4,536.5 1709.3,538.7ZM1701,542.3L1700,543.8 1699,544.2 1698,544.1 1697,543.5 1696.2,542.5 1695.8,540.6 1696.5,538.2 1697.9,537.4 1698.9,537.5 1699.9,538.1 1700.9,539.7ZM1692.3,543.7L1691.6,544.8 1690.2,545.6 1688.6,545 1687.8,544 1687.2,541.2 1687.8,539.2 1688.6,538.3 1690.2,537.9 1691.2,538.5 1692.1,539.5 1692.7,541.6ZM1741.7,410.9L1742.9,410.5 1744.3,410.9 1744.9,412.3 1744.7,413.5 1743.6,415.3 1742.5,416.3 1740.7,417 1739.7,416.9 1738.8,415.8 1738.9,414 1740,412.2ZM1748.2,416.6L1750.4,416.6 1751.1,417.2 1751.3,418.8 1750.8,420 1749.5,421.6 1748.3,422.2 1746.6,422.4 1745.5,421.6 1745.3,420 1746.5,417.7ZM1754,423.1L1755.2,423.2 1756.5,424.2 1756.8,426.3 1755.2,428.3 1753.4,429 1752.2,428.9 1750.9,428 1750.6,425.8 1752.2,423.8ZM1738.5,419.4L1742.3,422.4 1746.3,426.6 1749.8,431.7 1749.5,432.9 1748.6,433.1 1743.5,431.6 1742.6,430.9 1737.4,420.8 1737.5,419.7ZM1759.1,430.5L1761.1,430.8 1761.8,431.6 1761.8,433.2 1761.1,434.4 1759.2,435.8 1757.7,436.4 1756.2,436.5 1754.6,435.8 1754.1,434.4 1754.9,432.6 1756.8,431.1ZM1762.8,438.9L1764,439.2 1765.1,440.2 1764.8,441.6 1764,442.6 1762.1,443.6 1760.6,443.9 1758.7,443.7 1757.9,443 1757.6,441.7 1758.7,440.2 1760.6,439.2ZM1743.7,434.6L1752.5,437.1 1753.7,439.1 1755.6,444.1 1756.5,447.5 1756.2,448.4 1754.7,448.5 1743.5,443.7 1742.9,442.7 1741.8,436.6 1742.4,435.2ZM1765.2,447.3L1766.8,448.1 1767.3,449 1767.2,450 1766,451.3 1764.7,452 1762.5,452.3 1761.1,452 1759.8,451 1759.7,449.5 1760.9,448.1 1763,447.3ZM1747.8,448.7L1757.5,452.6 1758.5,459.3 1758.2,461 1757.2,461.1 1746.3,455.4 1745.8,454.2 1745.7,450.4 1746.4,449.2ZM1766.3,455.9L1767.3,456.5 1768,457.9 1767.2,459.8 1766.3,460.4 1764.4,460.8 1762.2,459.9 1761.5,458.6 1762.3,456.7 1764.5,455.7ZM1767.5,464.3L1769,465.6 1769.3,466.8 1769,467.9 1768.2,468.9 1766,469.7 1764.4,469.7 1762.3,469 1761.4,468 1761.1,466.3 1762.2,464.8 1764.3,463.9ZM1751.1,461.2L1758.3,464.5 1758.8,465.2 1758.8,473.1 1758.2,480.9 1757.5,483.3 1756.8,483.8 1755.9,483.6 1748.2,478.3 1747.4,477.1 1748.9,462.9 1749.7,461.7ZM1767.3,473.2L1768.7,474.5 1768.9,475.6 1768.6,476.6 1767.1,477.8 1765.6,478.2 1763.3,477.9 1761.3,476.3 1761.1,474.7 1761.8,473.7 1762.9,473 1765.1,472.7ZM1766.8,482.1L1768.2,483.5 1768.4,484.6 1767.5,485.9 1766.2,486.5 1763.8,486.6 1762.2,486.2 1760.9,485.4 1759.9,483.9 1760.4,482.4 1762.1,481.5 1764.5,481.4ZM1745.5,479.8L1756.9,487.5 1755.9,492.5 1754.6,495.9 1753.5,495.8 1742.1,486.5 1741.8,485 1743.2,481 1744.1,480ZM1765,490.5L1765.8,491.5 1766.1,492.7 1765.5,494.3 1764.5,495 1762.5,495.4 1761.1,495 1759.1,493.3 1758.9,492.1 1759.1,491 1760.4,489.8 1763.2,489.6ZM1730.6,497.1L1736.4,488.3 1737.3,487.6 1738.4,487.4 1739.5,487.9 1753.2,498.9 1753.6,499.7 1751.8,503.7 1750.5,505.3 1749.7,507.4 1746,512.5 1744.9,513.1 1731.1,499.3 1730.6,498.3ZM1762.6,499.1L1763.2,500.2 1763.3,501.8 1762.7,502.7 1761.7,503.3 1759.1,503.2 1757.9,502.6 1756.8,501.1 1756.7,499.5 1757.3,498.6 1758.3,498 1760.3,497.9ZM1759.6,507.7L1760.4,509.5 1760.2,510.5 1758.9,511.5 1757.5,511.6 1755.1,510.8 1753.8,509.8 1752.6,508 1752.5,506.9 1753.4,505.6 1755.4,505.3 1757.7,506.1ZM1754.7,515.3L1755.1,517.1 1754.8,518 1753.9,518.6 1752.1,518.6 1750.7,518 1749,516.5 1748.4,515.2 1748.3,513.6 1749.4,512.6 1751.2,512.6 1753.2,513.6ZM1748.1,521.2L1748.4,522.4 1748.1,523.9 1746.4,524.7 1745.3,524.4 1743.8,523.3 1742.9,521.6 1742.8,520.4 1743.4,519.1 1744.8,518.7 1747,519.6ZM1741.6,526.7L1741.8,528.8 1741.4,529.9 1740,530.5 1738.8,530.2 1737.6,529.4 1736.1,527.5 1735.6,526.1 1735.7,524.2 1736.8,523.1 1738.6,523.3 1740.3,524.7Z" fill="url(#b3rh)" fill-rule="evenodd" stroke="#5a8a58" stroke-width="0.5"/>
<path d="M1821.2,243.5L1816.8,242.3 1806.7,241.4 1801.6,241.3 1796,241.7 1782.9,244.7 1767.4,250.3 1752,257.3 1738.8,264.4 1723.4,274 1692.2,296.1 1687.6,298.3 1682.6,298.6 1680.5,299.4 1676.1,301.9 1667.4,308.1 1660.2,315.4 1649.4,328.7 1641.7,339.4 1634.1,351.7 1628.8,357.7 1627.4,360.5 1627,362.3 1627,367 1627.7,372.6 1628.9,378.4 1632.2,387.7 1635.3,393.4 1638.7,396.3 1641.1,397.5 1647.5,398.8 1672.8,399.2 1699.6,400.5 1738.4,403.7 1744.4,403.4 1759.1,400.5 1764.2,398.4 1770.5,394.3 1776.3,388.9 1780.4,383.9 1785.4,376.3 1788.9,370.1 1809.2,325.6 1824.1,288.4 1827.9,274.9 1828.7,268.8 1828.7,263.4 1827.7,256.7 1825.7,249.8 1823.4,245.4ZM1719.2,284.4L1726.7,278.9 1736.4,272.8 1737.5,272.6 1738.4,273 1740.1,275.5 1740.3,276.5 1739.8,277.5 1727.7,291.7 1726.5,291.8 1724.4,291 1719.4,286.6 1719,285.5ZM1717,312.5L1724.5,296.8 1725.7,296.1 1727.3,296.5 1730.8,299.9 1732.3,303.4 1732.1,304.8 1719.5,314.1 1717.8,314ZM1693.6,312.6L1698.3,303.2 1699.3,302.5 1700.5,302.8 1703.4,307.4 1703.3,308.9 1695.7,314.1 1694.2,313.9ZM1678.5,308.9L1678.5,307.8 1679.2,306.9 1683.8,304.4 1690,303.8 1691.2,304.3 1691.8,305.4 1691.7,306.7 1688,314 1686.6,315.1 1684.3,314.7 1679,310ZM1724,322.4L1722.1,319 1722.1,318.1 1722.6,317.2 1734.7,308.5 1736.1,308.4 1738.1,309.9 1739.8,314.2 1739.3,315.9 1725.9,322.7 1724.9,322.8ZM1697.4,325.6L1695,321.7 1695,320.6 1695.5,319.6 1706.6,312.1 1708,312 1710,313.2 1710.6,314.7 1709.9,316.1 1699.9,325.7 1698.6,326ZM1670.9,333.5L1666.3,329.5 1666,327.7 1675.8,314.8 1676.7,314.3 1677.8,314.3 1680.4,316.5 1680.6,318.3 1673.1,332.7 1672.1,333.5ZM1702.7,329.3L1714.5,318.1 1715.5,318.1 1716.9,319.1 1719.4,323.9 1719.4,324.9 1718.8,325.6 1707,332 1703.3,331.1 1702.7,330.3ZM1710.7,341.2L1709.9,337 1710.5,335.7 1721.1,329.9 1722,329.8 1722.9,330.3 1724.2,333 1723.7,334.4 1712.9,342 1711.6,342.1ZM1714.3,351.5L1712,349.9 1711.9,348.7 1712.5,347.7 1726.2,338.2 1727.4,337.9 1728.6,338.5 1731.5,345 1731.6,346.6 1731,347.7ZM1655.3,367L1675,345.9 1677.1,345.8 1681.8,341.9 1683.5,342.4 1685,341.8 1685.9,342.1 1686.2,342.8 1685.8,343.5 1656.9,368 1655.7,368.1ZM1719.2,362.8L1717.1,357.1 1717.2,356 1717.9,355.2 1732.2,351.9 1733.4,352.1 1734.3,353 1734.9,356 1734.1,357.5 1721.3,363.3 1720.2,363.4ZM1632.9,366.8L1632.7,364.4 1633.2,361.6 1637.7,356.5 1641.9,350.2 1643,349.6 1644.3,349.7 1647.9,352.7 1648.4,354 1648,355.5 1644.7,358 1640.9,361.9 1636.4,367.5 1634.5,368 1633.6,367.6ZM1645.2,380.7L1693.2,339.9 1698.9,336.4 1699.6,336.9 1699.7,337.8 1696.4,341.4 1696.5,342.7 1697.6,342.9 1702.4,340.4 1703.5,340.8 1703.5,342 1699.3,345.6 1699,346.3 1699.8,347.3 1703.3,347.1 1703.8,347.6 1703.8,348.4 1697.6,354.2 1646.6,381.8 1645.5,381.7ZM1644.4,372.8L1653.3,359.4 1654.4,358.9 1657.5,355.3 1659.8,355.3 1665.6,349.1 1666.4,348.9 1667.5,349.5 1667.8,350.2 1667.5,350.9 1646.1,373.5 1645,373.8ZM1701.3,368.8L1707.2,354.3 1708.3,353.4 1709.7,353.6 1712.2,355.6 1715.4,364.7 1715.2,366.1 1714.2,367 1703.6,370.6 1702,370.3ZM1668,372.7L1693.2,358.9 1693.9,358.8 1694.6,359.3 1694.7,360.7 1692.9,362.1 1692.9,363.6 1692.4,364.2 1669.2,374.2 1668,373.8ZM1722.4,368.1L1735,362.3 1736,362.3 1736.7,363.1 1737.1,367.1 1736.3,368.3 1724.2,371.6 1723.2,371.2 1722.3,369.6ZM1641.4,370.3L1643.1,366.4 1643.8,366 1645.2,366.3 1645.4,367.4 1643.1,370.9 1642.1,371.1ZM1700.6,376.5L1716.3,371 1717.6,371.7 1719.7,375.8 1719.3,379.6 1718.8,380.4 1717.9,380.7 1701.4,379.2 1700.2,378.1ZM1724.6,379.4L1724.6,377.6 1725.4,376.8 1738.1,373.3 1739.4,374.2 1740.4,379.6 1740,380.6 1739,380.9 1725.7,380.2ZM1649,385.1L1686.6,368.9 1687.7,369.2 1687.7,371.3 1689.4,372.6 1689.1,373.6 1685.6,375.9 1685.5,376.7 1686.1,377.8 1685.8,378.5 1683.1,379.6 1649.9,386.7 1648.9,386.2ZM1654.8,387.9L1673.4,383.7 1674.4,384.3 1674.7,386.2 1674.3,388 1673.5,388.6 1655.5,389.6 1654.6,388.9ZM1722.9,389.6L1723,386 1723.6,385.1 1724.7,384.6 1737.4,385.2 1738.7,385.8 1739.3,387.1 1738.6,389 1734.6,391.7 1724.8,391.4 1723.6,390.7ZM1689.7,391.6L1694.1,385.2 1695.1,384.8 1696,385.2 1697.9,392.1 1697.5,393.3 1696.5,393.7 1690.6,393.4 1689.7,392.8ZM1669.4,390.9L1672.4,390.7 1673,391.2 1673.1,392 1672.4,392.7 1669.7,392.8 1668.9,391.9ZM1773.6,251.9L1773.8,250.6 1774.8,249.4 1776.3,249.6 1777.3,250.5 1778.2,251.8 1778.9,254.2 1778.8,256.3 1778.2,257.1 1776.8,257.4 1775.3,256.3 1774.1,254.2ZM1771.9,262.7L1774.6,263.1 1779.3,261.6 1782.9,260 1789,258.4 1790.6,259.2 1791.2,261.5 1791,262.6 1790.1,263.3 1773.3,268.4 1771.7,267.8 1770.3,264.9 1770.6,263.5ZM1753.8,282.9L1750.7,279.6 1750.4,278.7 1750.8,277.8 1764.2,266.8 1765.2,266.5 1766.1,266.8 1768.1,270.7 1767.8,272.1 1755.5,282.7ZM1756.6,288.7L1756.6,287.6 1757.2,286.5 1769.6,276.1 1770.8,275.9 1771.9,276.5 1775.4,281.1 1775.5,282.5 1774.9,283.6 1761.9,294.3 1760.6,294.4 1759.4,293.8ZM1732.6,292.8L1742.6,280.5 1743.4,279.9 1744.4,279.9 1745.3,280.3 1750.3,286 1750.2,287.4 1749.4,288.3 1735,295.1 1734,295.2 1733.1,294.7 1732.6,293.9ZM1768.4,294.2L1777.8,286.4 1779.5,286.9 1782.5,291.1 1782.3,292.3 1781.5,293.1 1770.4,296.8 1769.4,296.7 1768.6,296.1 1768.2,295.2ZM1735.7,301.1L1735.7,299.7 1736.6,298.6 1751.8,291.5 1753.7,291.6 1755,293.2 1755.1,294.5 1754.4,295.6 1740.8,305.7 1739.3,305.7 1737.3,304.2ZM1767.6,302.4L1783.8,296.9 1785.4,297.5 1787,300.6 1786.9,301.7 1786.1,302.6 1771.5,309.2 1770,308.6 1767.3,304.6 1767,303.5ZM1744.5,313.6L1743.1,310.3 1743.6,308.8 1757.3,298.5 1758.4,298.2 1759.5,298.7 1761.6,302.1 1761.6,303 1761.1,303.8 1746.6,313.9 1745.5,314.1ZM1749.8,321.7L1748.3,319.4 1748.9,317.7 1762.5,308.3 1763.7,308 1764.7,308.6 1767.1,312.3 1767.2,313.2 1766.7,314.1 1751.5,321.8ZM1753,325.8L1768,318.2 1769,318.3 1769.9,318.8 1771.8,322.4 1771.7,323.5 1771.1,324.3 1759,334.2 1758.1,334.6 1756.6,334.3 1754.8,332.4 1752.5,327.8 1752.5,326.7ZM1729.7,332.8L1727.5,328.4 1727.9,326.9 1741.6,319.9 1742.5,319.8 1743.3,320.2 1745.3,323.7 1744.9,325.3 1731.3,332.9ZM1761.7,338L1773.8,327.9 1774.6,327.6 1775.6,328 1778.1,330.8 1779.8,337.1 1779.5,338 1778.6,338.4 1763,339.9 1761.8,339.4ZM1734.2,340.4L1733.2,338.3 1734,336.7 1746.9,329.5 1748.2,329.4 1749.1,330.1 1749.9,332.1 1749.2,333.7 1736.2,340.7 1735.1,340.9ZM1736.2,348.8L1735.8,346.5 1736.5,345.3 1751.8,337 1753.6,337 1755.6,339.2 1756.4,342.4 1756.1,343.3 1755.3,343.9 1738.3,349.7 1737.1,349.6ZM1760.8,347.1L1761,345.3 1762.5,344.3 1781.5,342.5 1783.3,343.1 1784.5,345.2 1784,346.9 1782.8,347.8 1764.2,351.8 1763,351.5 1762.2,350.9ZM1738.9,357.3L1738.6,354.6 1739.8,353.1 1755.5,347.9 1756.8,348.1 1757.8,349 1759.6,354.4 1759.2,356.4 1757.7,357.3 1741.3,359.6 1739.8,359ZM1764.2,355.6L1777.7,352.6 1778.9,352.8 1779.8,353.6 1779.9,355.2 1778,359.5 1774.1,367.2 1772.2,369.7 1771.1,369.9 1770,369.5 1766,365 1763.2,358.2 1763.4,356.6ZM1742.4,368.4L1741.9,364.7 1742.3,363.9 1743.1,363.4 1758.7,361.2 1760,361.7 1760.6,363.1 1760.4,364.4 1759.4,365.1 1744.2,369.2 1743.1,369.1ZM1745.1,377.9L1744.5,374.9 1745.4,373.5 1762.8,368.8 1764.3,369.3 1768.1,373.5 1768.5,374.4 1768.1,375.8 1766.2,377.2 1746.7,378.6ZM1781.7,373.7L1782.8,375.4 1782.7,376.9 1781.9,377.5 1780,377.6 1777.9,376.7 1776.6,375.7 1775.5,374 1775.5,372.9 1776.4,371.9 1778.2,371.8 1780.4,372.7ZM1776.8,380.9L1777.6,382.2 1777.7,383.8 1777.2,384.6 1775.5,384.9 1773.4,384.1 1772.2,383.1 1771.2,382 1770.7,380.2 1771.3,378.9 1773,378.6 1775,379.4ZM1771.5,387.9L1771.4,389.7 1770.7,390.7 1769.7,391.2 1768.5,391.3 1766.2,390 1765.4,388.8 1765.2,386.9 1765.6,385.8 1766.5,385 1768.2,384.8 1770,385.6ZM1764,393.5L1763.6,395.1 1762.9,395.8 1760.9,395.8 1759.9,395.1 1758.9,393.5 1758.7,392.3 1759,390.7 1760.2,389.9 1761.7,390.1 1763.4,391.7ZM1755.8,397.3L1754.9,398.9 1754,399.4 1752.9,399.3 1751.4,398.2 1750.8,396.9 1750.5,394.7 1751.5,392.3 1752.9,391.8 1754,392.2 1754.9,393.1 1755.8,395.1ZM1747.2,398.1L1746.9,399.4 1745.8,400.7 1744.4,400.7 1743.5,400 1742.7,398.9 1742.2,396.8 1742.5,394.8 1743.2,393.8 1744.6,393.4 1746,394.2 1747,396ZM1798.6,246L1799.2,244.7 1800.1,243.8 1801.2,243.4 1802.8,244 1803.7,245.1 1804.2,247.4 1803.8,249.7 1803.1,250.8 1801.5,251.6 1799.8,250.9 1798.5,248.4ZM1807.7,245.4L1809.1,244 1810.3,243.8 1811.4,244.2 1812.2,245.2 1812.8,247.4 1812.7,249 1812.1,250.4 1810.7,251.8 1809,251.9 1807.6,250.7 1807,247.7ZM1790.3,247.3L1791.6,245.6 1792.6,245.3 1794.1,245.9 1794.9,246.8 1795.4,248.7 1794.8,250.9 1793.5,251.8 1791.5,251.2 1790.3,249.1ZM1817.1,246.2L1818.2,245.5 1819.4,245.4 1820.4,245.8 1821.3,247.4 1821.2,249.5 1820.6,250.9 1819.6,252.1 1817.9,252.9 1816.3,252.5 1815.4,250.9 1815.5,248.7ZM1781.6,249.9L1781.7,248.4 1782.7,246.8 1784.3,246.6 1785.4,247.2 1786.8,249.1 1787.3,250.7 1787.2,253.1 1786.6,254.2 1785.2,254.9 1783.5,254.2 1782.2,252.3ZM1795.6,256.9L1800,256 1806.4,256.1 1807.6,256.7 1808,258 1807.3,259.3 1799.7,265.4 1798.5,265.8 1797.4,265.2 1796.1,263.2 1795,258.4ZM1824.2,260.9L1825.3,261.5 1826.1,262.8 1825.9,263.8 1824.7,265.1 1822,265.7 1820.1,265.2 1819.2,264.5 1818.9,263.1 1820.3,261.3 1822.2,260.7ZM1801.7,269.1L1811.1,261.4 1812.8,261.3 1814,262.3 1814.4,265.6 1814.1,270.5 1812.5,277.5 1811.5,278.7 1809.7,278.8 1805.6,276.3 1801.6,271.2 1801.4,270.1ZM1824.2,269.8L1825.2,271.1 1825.3,272.2 1824.1,274 1822.4,274.5 1821.1,274.4 1819.3,272.9 1819.1,270.8 1820.1,269.5 1821.9,269ZM1785.5,287L1783.1,284.2 1783.4,282.5 1796,273.2 1797,273 1797.9,273.4 1800.2,276.4 1800.3,277.3 1799.9,278.1 1787,286.9ZM1822.2,278.1L1823.4,279.5 1823.7,280.6 1823.1,282 1822.1,282.7 1820.1,282.9 1818.8,282.5 1816.9,280.8 1816.7,279.2 1817.3,278.3 1818.3,277.6 1820.2,277.4ZM1820,287.1L1820.9,289 1820.3,290.2 1819.3,290.7 1818.1,290.8 1816.2,290.3 1814.8,289.1 1814.3,288.2 1814.6,286.8 1815.9,286 1818.3,286.1ZM1788,291.6L1803.9,280.7 1805.6,280.9 1809.2,283 1809.9,284 1809.8,285.7 1808.4,288.2 1791.3,296.4 1790,296.4 1789,295.6 1787.7,293.2ZM1817,295.3L1817.9,296.8 1817.8,297.7 1817.1,298.5 1816.1,298.9 1814.1,298.8 1812.8,298.2 1811.4,296.9 1810.9,295.9 1811.3,294.5 1812.7,293.8 1814.7,293.9ZM1791.9,302.5L1791.9,301.6 1792.4,300.9 1802.2,296.2 1803.3,296.2 1804,296.9 1804.1,297.9 1802.5,300.9 1800.1,307.8 1799,309.4 1797.9,309.4 1796.3,308.3ZM1813.5,302.7L1814.9,304.3 1815.1,305.4 1814.8,306.3 1813.2,307 1811.7,307 1809.4,306.2 1808.1,305.3 1807.1,303.7 1807.4,302.3 1809,301.5 1811.2,301.7ZM1810.9,310.8L1811.6,312 1811.8,313.2 1811.4,314.2 1809.8,315.2 1807.6,315.2 1806.2,314.7 1805,313.7 1804.1,312 1804.5,310.3 1806.1,309.3 1808.3,309.3ZM1773.3,313.8L1787.7,307.1 1788.9,307.4 1790.2,309.1 1789.7,310.6 1776.9,319.9 1776,319.8 1775.3,319.2 1773.1,315.1ZM1807.4,318.7L1808.1,320.4 1807.9,321.6 1807.2,322.5 1806.2,323.1 1804.9,323.3 1803,322.6 1801.4,320.6 1801.5,318.9 1802.2,318 1803.3,317.4 1805.2,317.3ZM1803.7,326.4L1804.8,328 1805,329.2 1804.1,330.5 1803,331 1801.6,331.1 1799.5,330.3 1797.8,328.2 1797.6,327.1 1798.1,326.1 1799.6,325.2 1801.7,325.4ZM1784.1,330.9L1789,328.5 1789.9,328.5 1790.6,329.2 1790.5,330.3 1787.6,336.8 1786.9,337.5 1785.9,337.5 1785.1,336.8 1783.9,331.9ZM1800.6,334.6L1801.1,335.7 1801,337.4 1800.3,338.3 1799.2,338.9 1797.9,339 1795.9,338.3 1794.4,336.2 1794.5,334.5 1795.2,333.6 1796.3,333 1798.3,333.1ZM1797.4,342.6L1798.2,343.8 1798.4,345 1797.5,346.5 1796.2,346.9 1793.9,346.7 1792.3,346.1 1791.1,345 1790.1,343.2 1790.6,341.6 1792.3,340.7 1795.4,341.2ZM1793.3,350.6L1793.9,351.6 1793.8,353.1 1792.8,354.1 1791.6,354.3 1789.1,353.5 1788.1,352.7 1787.4,351.2 1787.5,350.2 1788.2,349.5 1789.8,349 1791.7,349.4ZM1789.3,357.5L1790.2,359.7 1790,360.8 1788.8,362 1786.4,362.3 1784.4,360.9 1783.9,358.6 1785.3,356.9 1787.1,356.5ZM1785.7,365.9L1786.6,366.9 1787,368.5 1786.2,369.6 1785.1,369.9 1783.7,369.8 1781.6,369 1780.1,367.5 1779.7,366.4 1780.1,365.1 1781.6,364.5 1783.7,364.8Z" fill="url(#b3rf)" fill-rule="evenodd" stroke="#4a9050" stroke-width="0.5"/>
<path d="M1624,361L1628.7,361.4 1631,362.1 1634.8,364.1 1636.5,365.4 1637.9,367.2 1639,370 1639.6,374 1640,384.3 1639.8,402.8 1638.4,419.5 1636,430 1632.1,439 1630.3,445 1629,455 1628,475 1627.1,484.3 1625.5,494.8 1624.5,498.5 1624,499 1623.5,498.5 1622.5,494.8 1620.9,484.3 1620,475 1619,455 1617.7,445 1615.9,439 1612,430 1609.6,419.5 1608.2,402.8 1608,384.3 1608.4,374 1609,370 1610.1,367.2 1611.5,365.4 1613.2,364.1 1617,362.1 1619.3,361.4Z" fill="url(#b3bd)" fill-rule="evenodd"/>
</g>
</defs>
<use href="#b1"/>
<use href="#b1" transform="matrix(0.778 0 0 0.778 71.36 715.00)"/>
<use href="#b1" transform="matrix(0.567 0 0 0.567 141.43 1417.60)"/>
<use href="#b2"/>
<use href="#b2" transform="matrix(0.81 0 0 0.81 191.41 693.21)"/>
<use href="#b2" transform="matrix(0.573 0 0 0.573 405.11 1415.24)"/>
<use href="#b3"/>
<use href="#b3" transform="matrix(0.795 0 0 0.795 332.39 699.15)"/>
<use href="#b3" transform="matrix(0.552 0 0 0.552 730.46 1422.66)"/>
<line x1="135.5" y1="577" x2="135.5" y2="634" class="tk"/>
<line x1="519.5" y1="579" x2="519.5" y2="636" class="tk"/>
<line x1="154.6" y1="606.4" x2="500.4" y2="606.4" class="ln"/>
<polygon points="138,606.4 154.6,597.1 154.6,615.7" class="ah"/>
<polygon points="516.3,606.4 500.4,597.1 500.4,615.7" class="ah"/>
<line x1="787.4" y1="578.5" x2="787.4" y2="634.6" class="tk"/>
<line x1="1171.5" y1="580" x2="1171.5" y2="636.5" class="tk"/>
<line x1="807" y1="607.2" x2="1152.2" y2="607.2" class="ln"/>
<polygon points="790.6,607.2 807,597.9 807,616.5" class="ah"/>
<polygon points="1168.5,607.2 1152.2,597.9 1152.2,616.5" class="ah"/>
<line x1="1432.4" y1="578.5" x2="1432.4" y2="634.6" class="tk"/>
<line x1="1816.5" y1="580" x2="1816.5" y2="636.5" class="tk"/>
<line x1="1451.7" y1="607.2" x2="1797.4" y2="607.2" class="ln"/>
<polygon points="1435.7,607.2 1451.7,597.9 1451.7,616.5" class="ah"/>
<polygon points="1813.7,607.2 1797.4,597.9 1797.4,616.5" class="ah"/>
<line x1="168.3" y1="1175.3" x2="168.3" y2="1231.7" class="tk"/>
<line x1="485.4" y1="1172.1" x2="485.4" y2="1228.9" class="tk"/>
<line x1="191.9" y1="1202.5" x2="462.5" y2="1202.5" class="ln"/>
<polygon points="175.5,1202.5 191.9,1193.2 191.9,1211.8" class="ah"/>
<polygon points="478.9,1202.5 462.5,1193.2 462.5,1211.8" class="ah"/>
<line x1="812.5" y1="1172.3" x2="812.5" y2="1228.6" class="tk"/>
<line x1="1129.5" y1="1169.3" x2="1129.5" y2="1225.6" class="tk"/>
<line x1="835.8" y1="1199.3" x2="1106.2" y2="1199.3" class="ln"/>
<polygon points="819.4,1199.3 835.8,1190.0 835.8,1208.6" class="ah"/>
<polygon points="1122.6,1199.3 1106.2,1190.0 1106.2,1208.6" class="ah"/>
<line x1="1464.4" y1="1169" x2="1464.4" y2="1225.6" class="tk"/>
<line x1="1781.3" y1="1166.4" x2="1781.3" y2="1222.7" class="tk"/>
<line x1="1487.7" y1="1196.2" x2="1758" y2="1196.2" class="ln"/>
<polygon points="1471.7,1196.2 1487.7,1186.9 1487.7,1205.5" class="ah"/>
<polygon points="1774.4,1196.2 1758,1186.9 1758,1205.5" class="ah"/>
<line x1="200.3" y1="1753.2" x2="200.3" y2="1809.9" class="tk"/>
<line x1="452.5" y1="1751.2" x2="452.5" y2="1807.9" class="tk"/>
<line x1="225" y1="1781.3" x2="428.1" y2="1781.3" class="ln"/>
<polygon points="208.4,1781.3 225,1772.0 225,1790.6" class="ah"/>
<polygon points="444.8,1781.3 428.1,1772.0 428.1,1790.6" class="ah"/>
<line x1="847.4" y1="1755.2" x2="847.4" y2="1811.7" class="tk"/>
<line x1="1099.4" y1="1753.2" x2="1099.4" y2="1809.9" class="tk"/>
<line x1="871.9" y1="1783.2" x2="1075" y2="1783.2" class="ln"/>
<polygon points="855.2,1783.2 871.9,1773.9 871.9,1792.5" class="ah"/>
<polygon points="1092,1783.2 1075,1773.9 1075,1792.5" class="ah"/>
<line x1="1502.5" y1="1755.2" x2="1502.5" y2="1811.7" class="tk"/>
<line x1="1754.5" y1="1753.2" x2="1754.5" y2="1809.9" class="tk"/>
<line x1="1526.9" y1="1783.2" x2="1730.2" y2="1783.2" class="ln"/>
<polygon points="1510.3,1783.2 1526.9,1773.9 1526.9,1792.5" class="ah"/>
<polygon points="1746.8,1783.2 1730.2,1773.9 1730.2,1792.5" class="ah"/>
<text y="247.6" class="pcs"><tspan x="276.97" textLength="27.37" lengthAdjust="spacingAndGlyphs">8</tspan><tspan x="306.65" textLength="29.54" lengthAdjust="spacingAndGlyphs">P</tspan><tspan x="337.81" textLength="22.8" lengthAdjust="spacingAndGlyphs">c</tspan><tspan x="362.90" textLength="21.63" lengthAdjust="spacingAndGlyphs">s</tspan></text>
<text y="247.6" class="pcs"><tspan x="930.97" textLength="27.37" lengthAdjust="spacingAndGlyphs">8</tspan><tspan x="960.65" textLength="29.54" lengthAdjust="spacingAndGlyphs">P</tspan><tspan x="991.81" textLength="22.8" lengthAdjust="spacingAndGlyphs">c</tspan><tspan x="1016.90" textLength="21.63" lengthAdjust="spacingAndGlyphs">s</tspan></text>
<text y="247.6" class="pcs"><tspan x="1578.97" textLength="27.37" lengthAdjust="spacingAndGlyphs">8</tspan><tspan x="1608.65" textLength="29.54" lengthAdjust="spacingAndGlyphs">P</tspan><tspan x="1639.81" textLength="22.8" lengthAdjust="spacingAndGlyphs">c</tspan><tspan x="1664.90" textLength="21.63" lengthAdjust="spacingAndGlyphs">s</tspan></text>
<text y="895.6" class="pcs"><tspan x="275.97" textLength="27.37" lengthAdjust="spacingAndGlyphs">8</tspan><tspan x="305.65" textLength="29.54" lengthAdjust="spacingAndGlyphs">P</tspan><tspan x="336.81" textLength="22.8" lengthAdjust="spacingAndGlyphs">c</tspan><tspan x="361.90" textLength="21.63" lengthAdjust="spacingAndGlyphs">s</tspan></text>
<text y="895.6" class="pcs"><tspan x="929.97" textLength="27.37" lengthAdjust="spacingAndGlyphs">8</tspan><tspan x="959.65" textLength="29.54" lengthAdjust="spacingAndGlyphs">P</tspan><tspan x="990.81" textLength="22.8" lengthAdjust="spacingAndGlyphs">c</tspan><tspan x="1015.90" textLength="21.63" lengthAdjust="spacingAndGlyphs">s</tspan></text>
<text y="895.6" class="pcs"><tspan x="1579.97" textLength="27.37" lengthAdjust="spacingAndGlyphs">8</tspan><tspan x="1609.65" textLength="29.54" lengthAdjust="spacingAndGlyphs">P</tspan><tspan x="1640.81" textLength="22.8" lengthAdjust="spacingAndGlyphs">c</tspan><tspan x="1665.90" textLength="21.63" lengthAdjust="spacingAndGlyphs">s</tspan></text>
<text y="1543.6" class="pcs"><tspan x="277.97" textLength="27.37" lengthAdjust="spacingAndGlyphs">8</tspan><tspan x="307.65" textLength="29.54" lengthAdjust="spacingAndGlyphs">P</tspan><tspan x="338.81" textLength="22.8" lengthAdjust="spacingAndGlyphs">c</tspan><tspan x="363.90" textLength="21.63" lengthAdjust="spacingAndGlyphs">s</tspan></text>
<text y="1543.6" class="pcs"><tspan x="928.97" textLength="27.37" lengthAdjust="spacingAndGlyphs">8</tspan><tspan x="958.65" textLength="29.54" lengthAdjust="spacingAndGlyphs">P</tspan><tspan x="989.81" textLength="22.8" lengthAdjust="spacingAndGlyphs">c</tspan><tspan x="1014.90" textLength="21.63" lengthAdjust="spacingAndGlyphs">s</tspan></text>
<text y="1543.6" class="pcs"><tspan x="1580.97" textLength="27.37" lengthAdjust="spacingAndGlyphs">8</tspan><tspan x="1610.65" textLength="29.54" lengthAdjust="spacingAndGlyphs">P</tspan><tspan x="1641.81" textLength="22.8" lengthAdjust="spacingAndGlyphs">c</tspan><tspan x="1666.90" textLength="21.63" lengthAdjust="spacingAndGlyphs">s</tspan></text>
<text x="276.2" y="674.5" class="sz" textLength="111.6" lengthAdjust="spacingAndGlyphs">4.7in</text>
<text x="934.2" y="683.0" class="sz" textLength="112.0" lengthAdjust="spacingAndGlyphs">4.7in</text>
<text x="1581.2" y="683.0" class="sz" textLength="112.4" lengthAdjust="spacingAndGlyphs">4.7in</text>
<text x="275.7" y="1280.6" class="sz" textLength="109.6" lengthAdjust="spacingAndGlyphs">3.9in</text>
<text x="934.0" y="1288.1" class="sz" textLength="108.8" lengthAdjust="spacingAndGlyphs">3.9in</text>
<text x="1581.2" y="1288.3" class="sz" textLength="109.4" lengthAdjust="spacingAndGlyphs">3.9in</text>
<text x="276.0" y="1858.6" class="sz" textLength="109.1" lengthAdjust="spacingAndGlyphs">3.1in</text>
<text x="934.1" y="1866.8" class="sz" textLength="108.9" lengthAdjust="spacingAndGlyphs">3.1in</text>
<text x="1581.0" y="1866.8" class="sz" textLength="109.2" lengthAdjust="spacingAndGlyphs">3.1in</text>
</svg>
</body></html>
